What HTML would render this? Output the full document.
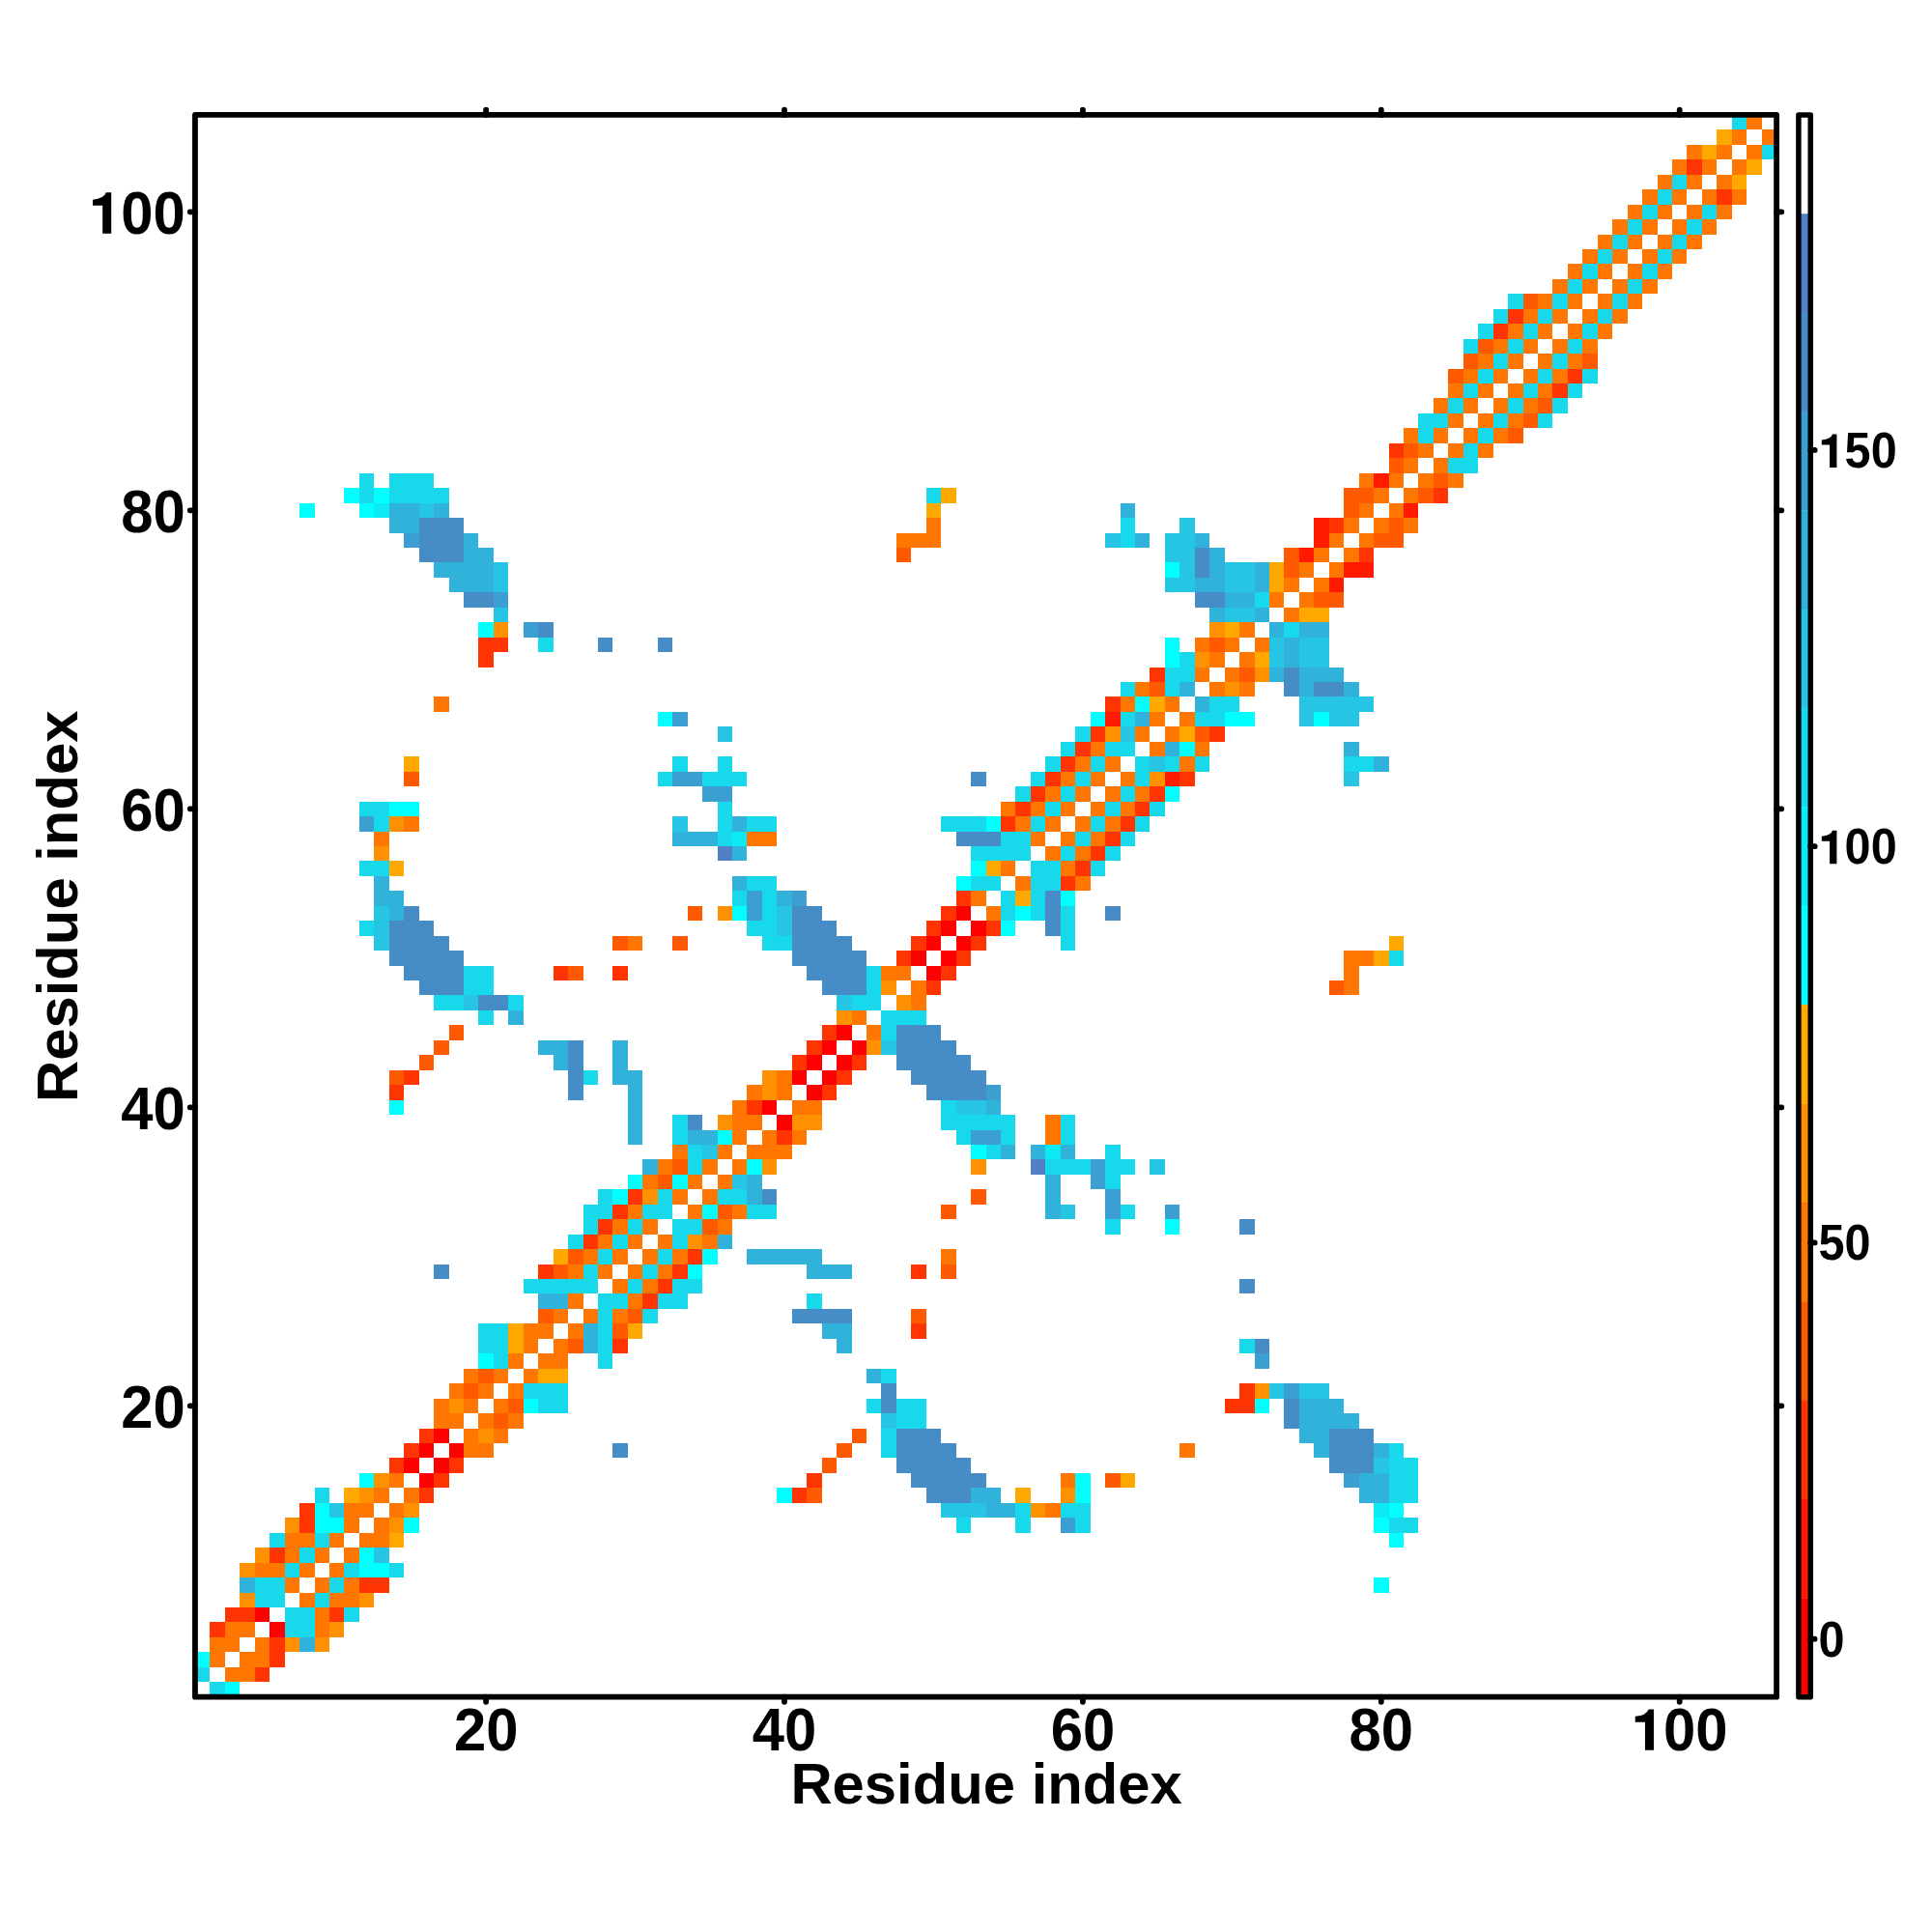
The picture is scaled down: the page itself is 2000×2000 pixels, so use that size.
<!DOCTYPE html><html><head><meta charset="utf-8"><title>Residue contact map</title>
<style>html,body{margin:0;padding:0;background:#fff}body{width:2000px;height:2000px;overflow:hidden}svg{display:block}text{font-family:"Liberation Sans",sans-serif;font-weight:bold;fill:#000}</style></head><body>
<svg width="2000" height="2000" viewBox="0 0 2000 2000">
<rect width="2000" height="2000" fill="#fff"/>
<g shape-rendering="crispEdges">
<rect x="217.39" y="1741.20" width="15.44" height="15.45" fill="#18d8ec"/>
<rect x="232.84" y="1741.20" width="15.44" height="15.45" fill="#00ffff"/>
<rect x="201.95" y="1725.75" width="15.44" height="15.45" fill="#18d8ec"/>
<rect x="232.84" y="1725.75" width="30.89" height="15.45" fill="#ff7600"/>
<rect x="263.73" y="1725.75" width="15.44" height="15.45" fill="#ff3400"/>
<rect x="201.95" y="1710.30" width="15.44" height="15.45" fill="#00ffff"/>
<rect x="217.39" y="1710.30" width="15.44" height="15.45" fill="#ff7600"/>
<rect x="248.28" y="1710.30" width="30.89" height="15.45" fill="#ff7600"/>
<rect x="279.17" y="1710.30" width="15.44" height="15.45" fill="#ff3400"/>
<rect x="217.39" y="1694.85" width="30.89" height="15.45" fill="#ff7600"/>
<rect x="263.73" y="1694.85" width="15.44" height="15.45" fill="#ff7600"/>
<rect x="279.17" y="1694.85" width="15.44" height="15.45" fill="#ff3400"/>
<rect x="294.62" y="1694.85" width="15.44" height="15.45" fill="#ff9000"/>
<rect x="310.06" y="1694.85" width="15.44" height="15.45" fill="#31b2da"/>
<rect x="325.51" y="1694.85" width="15.44" height="15.45" fill="#ff9000"/>
<rect x="217.39" y="1679.40" width="15.44" height="15.45" fill="#ff3400"/>
<rect x="232.84" y="1679.40" width="30.89" height="15.45" fill="#ff7600"/>
<rect x="279.17" y="1679.40" width="15.44" height="15.45" fill="#ff0000"/>
<rect x="294.62" y="1679.40" width="30.89" height="15.45" fill="#18d8ec"/>
<rect x="325.51" y="1679.40" width="15.44" height="15.45" fill="#ff7600"/>
<rect x="340.95" y="1679.40" width="15.44" height="15.45" fill="#ff9000"/>
<rect x="232.84" y="1663.95" width="30.89" height="15.45" fill="#ff3400"/>
<rect x="263.73" y="1663.95" width="15.44" height="15.45" fill="#ff0000"/>
<rect x="294.62" y="1663.95" width="30.89" height="15.45" fill="#18d8ec"/>
<rect x="325.51" y="1663.95" width="15.44" height="15.45" fill="#ff7600"/>
<rect x="340.95" y="1663.95" width="15.44" height="15.45" fill="#ff3400"/>
<rect x="356.40" y="1663.95" width="15.44" height="15.45" fill="#18d8ec"/>
<rect x="248.28" y="1648.50" width="15.44" height="15.45" fill="#ff9000"/>
<rect x="263.73" y="1648.50" width="30.89" height="15.45" fill="#18d8ec"/>
<rect x="310.06" y="1648.50" width="15.44" height="15.45" fill="#ff7600"/>
<rect x="325.51" y="1648.50" width="15.44" height="15.45" fill="#18d8ec"/>
<rect x="340.95" y="1648.50" width="30.89" height="15.45" fill="#ff7600"/>
<rect x="371.84" y="1648.50" width="15.44" height="15.45" fill="#ff9000"/>
<rect x="248.28" y="1633.05" width="15.44" height="15.45" fill="#31b2da"/>
<rect x="263.73" y="1633.05" width="30.89" height="15.45" fill="#18d8ec"/>
<rect x="294.62" y="1633.05" width="15.44" height="15.45" fill="#ff7600"/>
<rect x="325.51" y="1633.05" width="15.44" height="15.45" fill="#ff7600"/>
<rect x="340.95" y="1633.05" width="15.44" height="15.45" fill="#18d8ec"/>
<rect x="356.40" y="1633.05" width="15.44" height="15.45" fill="#ff7600"/>
<rect x="371.84" y="1633.05" width="30.89" height="15.45" fill="#ff3400"/>
<rect x="1422.09" y="1633.05" width="15.44" height="15.45" fill="#00ffff"/>
<rect x="248.28" y="1617.60" width="15.44" height="15.45" fill="#ff9000"/>
<rect x="263.73" y="1617.60" width="30.89" height="15.45" fill="#ff7600"/>
<rect x="294.62" y="1617.60" width="15.44" height="15.45" fill="#18d8ec"/>
<rect x="310.06" y="1617.60" width="15.44" height="15.45" fill="#ff7600"/>
<rect x="340.95" y="1617.60" width="15.44" height="15.45" fill="#ff7600"/>
<rect x="356.40" y="1617.60" width="15.44" height="15.45" fill="#18d8ec"/>
<rect x="371.84" y="1617.60" width="30.89" height="15.45" fill="#00ffff"/>
<rect x="402.73" y="1617.60" width="15.44" height="15.45" fill="#18d8ec"/>
<rect x="263.73" y="1602.15" width="15.44" height="15.45" fill="#ff9000"/>
<rect x="279.17" y="1602.15" width="15.44" height="15.45" fill="#ff3400"/>
<rect x="294.62" y="1602.15" width="15.44" height="15.45" fill="#ff7600"/>
<rect x="310.06" y="1602.15" width="15.44" height="15.45" fill="#18d8ec"/>
<rect x="325.51" y="1602.15" width="15.44" height="15.45" fill="#ff7600"/>
<rect x="356.40" y="1602.15" width="15.44" height="15.45" fill="#ff7600"/>
<rect x="371.84" y="1602.15" width="15.44" height="15.45" fill="#00ffff"/>
<rect x="387.29" y="1602.15" width="15.44" height="15.45" fill="#25c5e3"/>
<rect x="279.17" y="1586.69" width="15.44" height="15.45" fill="#18d8ec"/>
<rect x="294.62" y="1586.69" width="30.89" height="15.45" fill="#ff7600"/>
<rect x="325.51" y="1586.69" width="15.44" height="15.45" fill="#18d8ec"/>
<rect x="340.95" y="1586.69" width="15.44" height="15.45" fill="#ff7600"/>
<rect x="371.84" y="1586.69" width="30.89" height="15.45" fill="#ff7600"/>
<rect x="402.73" y="1586.69" width="15.44" height="15.45" fill="#ffa800"/>
<rect x="1437.53" y="1586.69" width="15.44" height="15.45" fill="#00ffff"/>
<rect x="294.62" y="1571.24" width="15.44" height="15.45" fill="#ff9000"/>
<rect x="310.06" y="1571.24" width="15.44" height="15.45" fill="#ff3400"/>
<rect x="325.51" y="1571.24" width="30.89" height="15.45" fill="#00ffff"/>
<rect x="356.40" y="1571.24" width="15.44" height="15.45" fill="#ff7600"/>
<rect x="387.29" y="1571.24" width="15.44" height="15.45" fill="#ff7600"/>
<rect x="402.73" y="1571.24" width="15.44" height="15.45" fill="#ff9000"/>
<rect x="418.18" y="1571.24" width="15.44" height="15.45" fill="#00ffff"/>
<rect x="989.64" y="1571.24" width="15.44" height="15.45" fill="#18d8ec"/>
<rect x="1051.41" y="1571.24" width="15.44" height="15.45" fill="#18d8ec"/>
<rect x="1097.75" y="1571.24" width="15.44" height="15.45" fill="#3c9fd1"/>
<rect x="1113.19" y="1571.24" width="15.44" height="15.45" fill="#18d8ec"/>
<rect x="1422.09" y="1571.24" width="15.44" height="15.45" fill="#00ffff"/>
<rect x="1437.53" y="1571.24" width="30.89" height="15.45" fill="#18d8ec"/>
<rect x="310.06" y="1555.79" width="15.44" height="15.45" fill="#ff3400"/>
<rect x="325.51" y="1555.79" width="15.44" height="15.45" fill="#00ffff"/>
<rect x="340.95" y="1555.79" width="15.44" height="15.45" fill="#25c5e3"/>
<rect x="356.40" y="1555.79" width="30.89" height="15.45" fill="#ff7600"/>
<rect x="402.73" y="1555.79" width="15.44" height="15.45" fill="#ff7600"/>
<rect x="418.18" y="1555.79" width="15.44" height="15.45" fill="#ff9000"/>
<rect x="974.19" y="1555.79" width="46.33" height="15.45" fill="#25c5e3"/>
<rect x="1020.52" y="1555.79" width="30.89" height="15.45" fill="#31b2da"/>
<rect x="1051.41" y="1555.79" width="15.44" height="15.45" fill="#18d8ec"/>
<rect x="1066.86" y="1555.79" width="15.44" height="15.45" fill="#ff9000"/>
<rect x="1082.30" y="1555.79" width="15.44" height="15.45" fill="#ff7600"/>
<rect x="1097.75" y="1555.79" width="30.89" height="15.45" fill="#18d8ec"/>
<rect x="1422.09" y="1555.79" width="15.44" height="15.45" fill="#0ceaf5"/>
<rect x="1437.53" y="1555.79" width="15.44" height="15.45" fill="#00ffff"/>
<rect x="325.51" y="1540.34" width="15.44" height="15.45" fill="#18d8ec"/>
<rect x="356.40" y="1540.34" width="15.44" height="15.45" fill="#ffa800"/>
<rect x="371.84" y="1540.34" width="15.44" height="15.45" fill="#ff9000"/>
<rect x="387.29" y="1540.34" width="15.44" height="15.45" fill="#ff7600"/>
<rect x="418.18" y="1540.34" width="15.44" height="15.45" fill="#ff7600"/>
<rect x="433.62" y="1540.34" width="15.44" height="15.45" fill="#ff3400"/>
<rect x="804.30" y="1540.34" width="15.44" height="15.45" fill="#00ffff"/>
<rect x="819.74" y="1540.34" width="15.44" height="15.45" fill="#ff3400"/>
<rect x="835.19" y="1540.34" width="15.44" height="15.45" fill="#ff5a00"/>
<rect x="958.75" y="1540.34" width="46.33" height="15.45" fill="#468dc8"/>
<rect x="1005.08" y="1540.34" width="30.89" height="15.45" fill="#31b2da"/>
<rect x="1051.41" y="1540.34" width="15.44" height="15.45" fill="#ffa800"/>
<rect x="1097.75" y="1540.34" width="15.44" height="15.45" fill="#ff9000"/>
<rect x="1113.19" y="1540.34" width="15.44" height="15.45" fill="#00ffff"/>
<rect x="1406.65" y="1540.34" width="30.89" height="15.45" fill="#31b2da"/>
<rect x="1437.53" y="1540.34" width="30.89" height="15.45" fill="#18d8ec"/>
<rect x="371.84" y="1524.89" width="15.44" height="15.45" fill="#00ffff"/>
<rect x="387.29" y="1524.89" width="15.44" height="15.45" fill="#ff9000"/>
<rect x="402.73" y="1524.89" width="15.44" height="15.45" fill="#ff7600"/>
<rect x="433.62" y="1524.89" width="15.44" height="15.45" fill="#ff0000"/>
<rect x="449.07" y="1524.89" width="15.44" height="15.45" fill="#ff3400"/>
<rect x="835.19" y="1524.89" width="15.44" height="15.45" fill="#ff3400"/>
<rect x="943.30" y="1524.89" width="77.22" height="15.45" fill="#468dc8"/>
<rect x="1097.75" y="1524.89" width="15.44" height="15.45" fill="#ff7600"/>
<rect x="1113.19" y="1524.89" width="15.44" height="15.45" fill="#00ffff"/>
<rect x="1144.08" y="1524.89" width="15.44" height="15.45" fill="#ff5a00"/>
<rect x="1159.53" y="1524.89" width="15.44" height="15.45" fill="#ffa800"/>
<rect x="1391.20" y="1524.89" width="15.44" height="15.45" fill="#3c9fd1"/>
<rect x="1406.65" y="1524.89" width="30.89" height="15.45" fill="#31b2da"/>
<rect x="1437.53" y="1524.89" width="30.89" height="15.45" fill="#18d8ec"/>
<rect x="402.73" y="1509.44" width="15.44" height="15.45" fill="#ff3400"/>
<rect x="418.18" y="1509.44" width="15.44" height="15.45" fill="#ff0000"/>
<rect x="449.07" y="1509.44" width="15.44" height="15.45" fill="#ff0000"/>
<rect x="464.51" y="1509.44" width="15.44" height="15.45" fill="#ff3400"/>
<rect x="850.63" y="1509.44" width="15.44" height="15.45" fill="#ff5a00"/>
<rect x="927.86" y="1509.44" width="77.22" height="15.45" fill="#468dc8"/>
<rect x="1375.76" y="1509.44" width="46.33" height="15.45" fill="#468dc8"/>
<rect x="1422.09" y="1509.44" width="15.44" height="15.45" fill="#25c5e3"/>
<rect x="1437.53" y="1509.44" width="30.89" height="15.45" fill="#18d8ec"/>
<rect x="418.18" y="1493.99" width="15.44" height="15.45" fill="#ff3400"/>
<rect x="433.62" y="1493.99" width="15.44" height="15.45" fill="#ff0000"/>
<rect x="464.51" y="1493.99" width="15.44" height="15.45" fill="#ff0000"/>
<rect x="479.96" y="1493.99" width="30.89" height="15.45" fill="#ff7600"/>
<rect x="634.40" y="1493.99" width="15.44" height="15.45" fill="#468dc8"/>
<rect x="866.08" y="1493.99" width="15.44" height="15.45" fill="#ff5a00"/>
<rect x="912.41" y="1493.99" width="15.44" height="15.45" fill="#18d8ec"/>
<rect x="927.86" y="1493.99" width="61.78" height="15.45" fill="#468dc8"/>
<rect x="1221.31" y="1493.99" width="15.44" height="15.45" fill="#ff7600"/>
<rect x="1360.31" y="1493.99" width="15.44" height="15.45" fill="#31b2da"/>
<rect x="1375.76" y="1493.99" width="46.33" height="15.45" fill="#468dc8"/>
<rect x="1422.09" y="1493.99" width="15.44" height="15.45" fill="#31b2da"/>
<rect x="1437.53" y="1493.99" width="15.44" height="15.45" fill="#18d8ec"/>
<rect x="433.62" y="1478.54" width="15.44" height="15.45" fill="#ff3400"/>
<rect x="449.07" y="1478.54" width="15.44" height="15.45" fill="#ff0000"/>
<rect x="479.96" y="1478.54" width="15.44" height="15.45" fill="#ff7600"/>
<rect x="495.40" y="1478.54" width="15.44" height="15.45" fill="#ff9000"/>
<rect x="510.85" y="1478.54" width="15.44" height="15.45" fill="#ff7600"/>
<rect x="881.52" y="1478.54" width="15.44" height="15.45" fill="#ff5a00"/>
<rect x="912.41" y="1478.54" width="15.44" height="15.45" fill="#18d8ec"/>
<rect x="927.86" y="1478.54" width="46.33" height="15.45" fill="#468dc8"/>
<rect x="1344.87" y="1478.54" width="30.89" height="15.45" fill="#31b2da"/>
<rect x="1375.76" y="1478.54" width="46.33" height="15.45" fill="#468dc8"/>
<rect x="449.07" y="1463.09" width="30.89" height="15.45" fill="#ff7600"/>
<rect x="495.40" y="1463.09" width="15.44" height="15.45" fill="#ff7600"/>
<rect x="510.85" y="1463.09" width="15.44" height="15.45" fill="#ff5a00"/>
<rect x="526.29" y="1463.09" width="15.44" height="15.45" fill="#ff7600"/>
<rect x="912.41" y="1463.09" width="15.44" height="15.45" fill="#25c5e3"/>
<rect x="927.86" y="1463.09" width="30.89" height="15.45" fill="#18d8ec"/>
<rect x="1329.42" y="1463.09" width="15.44" height="15.45" fill="#468dc8"/>
<rect x="1344.87" y="1463.09" width="61.78" height="15.45" fill="#31b2da"/>
<rect x="449.07" y="1447.64" width="15.44" height="15.45" fill="#ff7600"/>
<rect x="464.51" y="1447.64" width="15.44" height="15.45" fill="#ff9000"/>
<rect x="479.96" y="1447.64" width="15.44" height="15.45" fill="#ff7600"/>
<rect x="510.85" y="1447.64" width="15.44" height="15.45" fill="#ff7600"/>
<rect x="526.29" y="1447.64" width="15.44" height="15.45" fill="#ff5a00"/>
<rect x="541.74" y="1447.64" width="15.44" height="15.45" fill="#00ffff"/>
<rect x="557.18" y="1447.64" width="30.89" height="15.45" fill="#18d8ec"/>
<rect x="896.97" y="1447.64" width="15.44" height="15.45" fill="#18d8ec"/>
<rect x="912.41" y="1447.64" width="15.44" height="15.45" fill="#468dc8"/>
<rect x="927.86" y="1447.64" width="30.89" height="15.45" fill="#18d8ec"/>
<rect x="1267.64" y="1447.64" width="30.89" height="15.45" fill="#ff3400"/>
<rect x="1298.53" y="1447.64" width="15.44" height="15.45" fill="#00ffff"/>
<rect x="1329.42" y="1447.64" width="15.44" height="15.45" fill="#468dc8"/>
<rect x="1344.87" y="1447.64" width="46.33" height="15.45" fill="#31b2da"/>
<rect x="464.51" y="1432.19" width="15.44" height="15.45" fill="#ff7600"/>
<rect x="479.96" y="1432.19" width="15.44" height="15.45" fill="#ff5a00"/>
<rect x="495.40" y="1432.19" width="15.44" height="15.45" fill="#ff7600"/>
<rect x="526.29" y="1432.19" width="15.44" height="15.45" fill="#ff7600"/>
<rect x="541.74" y="1432.19" width="46.33" height="15.45" fill="#18d8ec"/>
<rect x="912.41" y="1432.19" width="15.44" height="15.45" fill="#468dc8"/>
<rect x="1283.09" y="1432.19" width="15.44" height="15.45" fill="#ff3400"/>
<rect x="1298.53" y="1432.19" width="15.44" height="15.45" fill="#ff9000"/>
<rect x="1313.98" y="1432.19" width="15.44" height="15.45" fill="#25c5e3"/>
<rect x="1329.42" y="1432.19" width="15.44" height="15.45" fill="#3c9fd1"/>
<rect x="1344.87" y="1432.19" width="30.89" height="15.45" fill="#25c5e3"/>
<rect x="479.96" y="1416.74" width="15.44" height="15.45" fill="#ff7600"/>
<rect x="495.40" y="1416.74" width="15.44" height="15.45" fill="#ff5a00"/>
<rect x="510.85" y="1416.74" width="15.44" height="15.45" fill="#ff7600"/>
<rect x="541.74" y="1416.74" width="15.44" height="15.45" fill="#ff7600"/>
<rect x="557.18" y="1416.74" width="30.89" height="15.45" fill="#ffa800"/>
<rect x="896.97" y="1416.74" width="15.44" height="15.45" fill="#31b2da"/>
<rect x="912.41" y="1416.74" width="15.44" height="15.45" fill="#18d8ec"/>
<rect x="495.40" y="1401.29" width="15.44" height="15.45" fill="#00ffff"/>
<rect x="510.85" y="1401.29" width="15.44" height="15.45" fill="#18d8ec"/>
<rect x="526.29" y="1401.29" width="15.44" height="15.45" fill="#ff7600"/>
<rect x="557.18" y="1401.29" width="30.89" height="15.45" fill="#ff7600"/>
<rect x="618.96" y="1401.29" width="15.44" height="15.45" fill="#18d8ec"/>
<rect x="1298.53" y="1401.29" width="15.44" height="15.45" fill="#3c9fd1"/>
<rect x="495.40" y="1385.84" width="30.89" height="15.45" fill="#18d8ec"/>
<rect x="526.29" y="1385.84" width="15.44" height="15.45" fill="#ffa800"/>
<rect x="541.74" y="1385.84" width="15.44" height="15.45" fill="#ff7600"/>
<rect x="572.63" y="1385.84" width="15.44" height="15.45" fill="#ff7600"/>
<rect x="588.07" y="1385.84" width="15.44" height="15.45" fill="#ff5a00"/>
<rect x="603.52" y="1385.84" width="15.44" height="15.45" fill="#31b2da"/>
<rect x="618.96" y="1385.84" width="15.44" height="15.45" fill="#18d8ec"/>
<rect x="634.40" y="1385.84" width="15.44" height="15.45" fill="#ff3400"/>
<rect x="866.08" y="1385.84" width="15.44" height="15.45" fill="#31b2da"/>
<rect x="1283.09" y="1385.84" width="15.44" height="15.45" fill="#18d8ec"/>
<rect x="1298.53" y="1385.84" width="15.44" height="15.45" fill="#468dc8"/>
<rect x="495.40" y="1370.39" width="30.89" height="15.45" fill="#18d8ec"/>
<rect x="526.29" y="1370.39" width="15.44" height="15.45" fill="#ffa800"/>
<rect x="541.74" y="1370.39" width="30.89" height="15.45" fill="#ff7600"/>
<rect x="588.07" y="1370.39" width="15.44" height="15.45" fill="#ff7600"/>
<rect x="603.52" y="1370.39" width="15.44" height="15.45" fill="#31b2da"/>
<rect x="618.96" y="1370.39" width="15.44" height="15.45" fill="#18d8ec"/>
<rect x="634.40" y="1370.39" width="15.44" height="15.45" fill="#ff5a00"/>
<rect x="649.85" y="1370.39" width="15.44" height="15.45" fill="#ffa800"/>
<rect x="850.63" y="1370.39" width="30.89" height="15.45" fill="#31b2da"/>
<rect x="943.30" y="1370.39" width="15.44" height="15.45" fill="#ff3400"/>
<rect x="557.18" y="1354.94" width="15.44" height="15.45" fill="#ff5a00"/>
<rect x="572.63" y="1354.94" width="15.44" height="15.45" fill="#ff7600"/>
<rect x="603.52" y="1354.94" width="15.44" height="15.45" fill="#ff7600"/>
<rect x="618.96" y="1354.94" width="15.44" height="15.45" fill="#18d8ec"/>
<rect x="634.40" y="1354.94" width="15.44" height="15.45" fill="#ff7600"/>
<rect x="649.85" y="1354.94" width="15.44" height="15.45" fill="#ff5a00"/>
<rect x="665.29" y="1354.94" width="15.44" height="15.45" fill="#18d8ec"/>
<rect x="819.74" y="1354.94" width="61.78" height="15.45" fill="#468dc8"/>
<rect x="943.30" y="1354.94" width="15.44" height="15.45" fill="#ff5a00"/>
<rect x="557.18" y="1339.49" width="30.89" height="15.45" fill="#31b2da"/>
<rect x="588.07" y="1339.49" width="15.44" height="15.45" fill="#ff7600"/>
<rect x="618.96" y="1339.49" width="30.89" height="15.45" fill="#18d8ec"/>
<rect x="649.85" y="1339.49" width="15.44" height="15.45" fill="#ff7600"/>
<rect x="665.29" y="1339.49" width="15.44" height="15.45" fill="#ff3400"/>
<rect x="680.74" y="1339.49" width="30.89" height="15.45" fill="#18d8ec"/>
<rect x="835.19" y="1339.49" width="15.44" height="15.45" fill="#18d8ec"/>
<rect x="541.74" y="1324.04" width="77.22" height="15.45" fill="#18d8ec"/>
<rect x="634.40" y="1324.04" width="15.44" height="15.45" fill="#ff7600"/>
<rect x="649.85" y="1324.04" width="15.44" height="15.45" fill="#18d8ec"/>
<rect x="665.29" y="1324.04" width="15.44" height="15.45" fill="#ff7600"/>
<rect x="680.74" y="1324.04" width="15.44" height="15.45" fill="#ff3400"/>
<rect x="696.18" y="1324.04" width="30.89" height="15.45" fill="#18d8ec"/>
<rect x="1283.09" y="1324.04" width="15.44" height="15.45" fill="#468dc8"/>
<rect x="449.07" y="1308.59" width="15.44" height="15.45" fill="#468dc8"/>
<rect x="557.18" y="1308.59" width="15.44" height="15.45" fill="#ff3400"/>
<rect x="572.63" y="1308.59" width="15.44" height="15.45" fill="#ff5a00"/>
<rect x="588.07" y="1308.59" width="15.44" height="15.45" fill="#ff7600"/>
<rect x="603.52" y="1308.59" width="15.44" height="15.45" fill="#18d8ec"/>
<rect x="618.96" y="1308.59" width="15.44" height="15.45" fill="#ff7600"/>
<rect x="649.85" y="1308.59" width="15.44" height="15.45" fill="#ff7600"/>
<rect x="665.29" y="1308.59" width="15.44" height="15.45" fill="#18d8ec"/>
<rect x="680.74" y="1308.59" width="15.44" height="15.45" fill="#ff7600"/>
<rect x="696.18" y="1308.59" width="15.44" height="15.45" fill="#ff3400"/>
<rect x="711.63" y="1308.59" width="15.44" height="15.45" fill="#00ffff"/>
<rect x="835.19" y="1308.59" width="46.33" height="15.45" fill="#31b2da"/>
<rect x="943.30" y="1308.59" width="15.44" height="15.45" fill="#ff3400"/>
<rect x="974.19" y="1308.59" width="15.44" height="15.45" fill="#ff5a00"/>
<rect x="572.63" y="1293.14" width="15.44" height="15.45" fill="#ffa800"/>
<rect x="588.07" y="1293.14" width="15.44" height="15.45" fill="#ff5a00"/>
<rect x="603.52" y="1293.14" width="15.44" height="15.45" fill="#ff7600"/>
<rect x="618.96" y="1293.14" width="15.44" height="15.45" fill="#18d8ec"/>
<rect x="634.40" y="1293.14" width="15.44" height="15.45" fill="#ff7600"/>
<rect x="665.29" y="1293.14" width="15.44" height="15.45" fill="#ff7600"/>
<rect x="680.74" y="1293.14" width="15.44" height="15.45" fill="#18d8ec"/>
<rect x="696.18" y="1293.14" width="15.44" height="15.45" fill="#ff7600"/>
<rect x="711.63" y="1293.14" width="15.44" height="15.45" fill="#ff3400"/>
<rect x="727.07" y="1293.14" width="15.44" height="15.45" fill="#00ffff"/>
<rect x="773.41" y="1293.14" width="77.22" height="15.45" fill="#31b2da"/>
<rect x="974.19" y="1293.14" width="15.44" height="15.45" fill="#ff7600"/>
<rect x="588.07" y="1277.69" width="15.44" height="15.45" fill="#18d8ec"/>
<rect x="603.52" y="1277.69" width="15.44" height="15.45" fill="#ff3400"/>
<rect x="618.96" y="1277.69" width="15.44" height="15.45" fill="#ff7600"/>
<rect x="634.40" y="1277.69" width="15.44" height="15.45" fill="#18d8ec"/>
<rect x="649.85" y="1277.69" width="15.44" height="15.45" fill="#ff7600"/>
<rect x="680.74" y="1277.69" width="15.44" height="15.45" fill="#ff7600"/>
<rect x="696.18" y="1277.69" width="15.44" height="15.45" fill="#18d8ec"/>
<rect x="711.63" y="1277.69" width="15.44" height="15.45" fill="#ff9000"/>
<rect x="727.07" y="1277.69" width="15.44" height="15.45" fill="#ff7600"/>
<rect x="742.52" y="1277.69" width="15.44" height="15.45" fill="#31b2da"/>
<rect x="603.52" y="1262.23" width="15.44" height="15.45" fill="#18d8ec"/>
<rect x="618.96" y="1262.23" width="15.44" height="15.45" fill="#ff3400"/>
<rect x="634.40" y="1262.23" width="15.44" height="15.45" fill="#ff7600"/>
<rect x="649.85" y="1262.23" width="15.44" height="15.45" fill="#18d8ec"/>
<rect x="665.29" y="1262.23" width="15.44" height="15.45" fill="#ff7600"/>
<rect x="696.18" y="1262.23" width="30.89" height="15.45" fill="#18d8ec"/>
<rect x="727.07" y="1262.23" width="15.44" height="15.45" fill="#ff5a00"/>
<rect x="742.52" y="1262.23" width="15.44" height="15.45" fill="#ff7600"/>
<rect x="1144.08" y="1262.23" width="15.44" height="15.45" fill="#18d8ec"/>
<rect x="1205.86" y="1262.23" width="15.44" height="15.45" fill="#00ffff"/>
<rect x="1283.09" y="1262.23" width="15.44" height="15.45" fill="#468dc8"/>
<rect x="603.52" y="1246.78" width="30.89" height="15.45" fill="#18d8ec"/>
<rect x="634.40" y="1246.78" width="15.44" height="15.45" fill="#ff3400"/>
<rect x="649.85" y="1246.78" width="15.44" height="15.45" fill="#ff7600"/>
<rect x="665.29" y="1246.78" width="30.89" height="15.45" fill="#18d8ec"/>
<rect x="711.63" y="1246.78" width="15.44" height="15.45" fill="#ff7600"/>
<rect x="727.07" y="1246.78" width="15.44" height="15.45" fill="#00ffff"/>
<rect x="742.52" y="1246.78" width="15.44" height="15.45" fill="#ff5a00"/>
<rect x="757.96" y="1246.78" width="15.44" height="15.45" fill="#ff7600"/>
<rect x="773.41" y="1246.78" width="30.89" height="15.45" fill="#18d8ec"/>
<rect x="974.19" y="1246.78" width="15.44" height="15.45" fill="#ff5a00"/>
<rect x="1082.30" y="1246.78" width="15.44" height="15.45" fill="#31b2da"/>
<rect x="1097.75" y="1246.78" width="15.44" height="15.45" fill="#25c5e3"/>
<rect x="1144.08" y="1246.78" width="15.44" height="15.45" fill="#3c9fd1"/>
<rect x="1159.53" y="1246.78" width="15.44" height="15.45" fill="#18d8ec"/>
<rect x="1205.86" y="1246.78" width="15.44" height="15.45" fill="#3c9fd1"/>
<rect x="618.96" y="1231.33" width="15.44" height="15.45" fill="#18d8ec"/>
<rect x="634.40" y="1231.33" width="15.44" height="15.45" fill="#00ffff"/>
<rect x="649.85" y="1231.33" width="15.44" height="15.45" fill="#ff3400"/>
<rect x="665.29" y="1231.33" width="15.44" height="15.45" fill="#ff9000"/>
<rect x="680.74" y="1231.33" width="15.44" height="15.45" fill="#18d8ec"/>
<rect x="696.18" y="1231.33" width="15.44" height="15.45" fill="#ff7600"/>
<rect x="727.07" y="1231.33" width="15.44" height="15.45" fill="#ff7600"/>
<rect x="742.52" y="1231.33" width="30.89" height="15.45" fill="#18d8ec"/>
<rect x="773.41" y="1231.33" width="15.44" height="15.45" fill="#31b2da"/>
<rect x="788.85" y="1231.33" width="15.44" height="15.45" fill="#468dc8"/>
<rect x="1005.08" y="1231.33" width="15.44" height="15.45" fill="#ff5a00"/>
<rect x="1082.30" y="1231.33" width="15.44" height="15.45" fill="#31b2da"/>
<rect x="1144.08" y="1231.33" width="15.44" height="15.45" fill="#3c9fd1"/>
<rect x="649.85" y="1215.88" width="15.44" height="15.45" fill="#00ffff"/>
<rect x="665.29" y="1215.88" width="15.44" height="15.45" fill="#ff7600"/>
<rect x="680.74" y="1215.88" width="15.44" height="15.45" fill="#ff5a00"/>
<rect x="696.18" y="1215.88" width="15.44" height="15.45" fill="#00ffff"/>
<rect x="711.63" y="1215.88" width="15.44" height="15.45" fill="#ff7600"/>
<rect x="742.52" y="1215.88" width="15.44" height="15.45" fill="#ff7600"/>
<rect x="757.96" y="1215.88" width="15.44" height="15.45" fill="#25c5e3"/>
<rect x="773.41" y="1215.88" width="15.44" height="15.45" fill="#31b2da"/>
<rect x="1082.30" y="1215.88" width="15.44" height="15.45" fill="#31b2da"/>
<rect x="1128.64" y="1215.88" width="15.44" height="15.45" fill="#3c9fd1"/>
<rect x="1144.08" y="1215.88" width="15.44" height="15.45" fill="#18d8ec"/>
<rect x="665.29" y="1200.43" width="15.44" height="15.45" fill="#31b2da"/>
<rect x="680.74" y="1200.43" width="15.44" height="15.45" fill="#ff7600"/>
<rect x="696.18" y="1200.43" width="15.44" height="15.45" fill="#ff5a00"/>
<rect x="711.63" y="1200.43" width="15.44" height="15.45" fill="#18d8ec"/>
<rect x="727.07" y="1200.43" width="15.44" height="15.45" fill="#ff7600"/>
<rect x="757.96" y="1200.43" width="15.44" height="15.45" fill="#ff7600"/>
<rect x="773.41" y="1200.43" width="15.44" height="15.45" fill="#00ffff"/>
<rect x="788.85" y="1200.43" width="15.44" height="15.45" fill="#ff9000"/>
<rect x="1005.08" y="1200.43" width="15.44" height="15.45" fill="#ff9000"/>
<rect x="1066.86" y="1200.43" width="15.44" height="15.45" fill="#5280c6"/>
<rect x="1082.30" y="1200.43" width="46.33" height="15.45" fill="#18d8ec"/>
<rect x="1128.64" y="1200.43" width="15.44" height="15.45" fill="#3c9fd1"/>
<rect x="1144.08" y="1200.43" width="30.89" height="15.45" fill="#18d8ec"/>
<rect x="1190.42" y="1200.43" width="15.44" height="15.45" fill="#25c5e3"/>
<rect x="696.18" y="1184.98" width="15.44" height="15.45" fill="#ff7600"/>
<rect x="711.63" y="1184.98" width="15.44" height="15.45" fill="#18d8ec"/>
<rect x="727.07" y="1184.98" width="15.44" height="15.45" fill="#25c5e3"/>
<rect x="742.52" y="1184.98" width="15.44" height="15.45" fill="#ff7600"/>
<rect x="773.41" y="1184.98" width="46.33" height="15.45" fill="#ff7600"/>
<rect x="1005.08" y="1184.98" width="15.44" height="15.45" fill="#00ffff"/>
<rect x="1020.52" y="1184.98" width="15.44" height="15.45" fill="#18d8ec"/>
<rect x="1035.97" y="1184.98" width="15.44" height="15.45" fill="#31b2da"/>
<rect x="1066.86" y="1184.98" width="15.44" height="15.45" fill="#31b2da"/>
<rect x="1082.30" y="1184.98" width="15.44" height="15.45" fill="#0ceaf5"/>
<rect x="1097.75" y="1184.98" width="15.44" height="15.45" fill="#31b2da"/>
<rect x="1144.08" y="1184.98" width="15.44" height="15.45" fill="#18d8ec"/>
<rect x="649.85" y="1169.53" width="15.44" height="15.45" fill="#31b2da"/>
<rect x="696.18" y="1169.53" width="15.44" height="15.45" fill="#18d8ec"/>
<rect x="711.63" y="1169.53" width="30.89" height="15.45" fill="#31b2da"/>
<rect x="742.52" y="1169.53" width="15.44" height="15.45" fill="#00ffff"/>
<rect x="757.96" y="1169.53" width="15.44" height="15.45" fill="#ff7600"/>
<rect x="788.85" y="1169.53" width="15.44" height="15.45" fill="#ff7600"/>
<rect x="804.30" y="1169.53" width="15.44" height="15.45" fill="#ff3400"/>
<rect x="819.74" y="1169.53" width="15.44" height="15.45" fill="#ff7600"/>
<rect x="989.64" y="1169.53" width="15.44" height="15.45" fill="#18d8ec"/>
<rect x="1005.08" y="1169.53" width="30.89" height="15.45" fill="#3c9fd1"/>
<rect x="1035.97" y="1169.53" width="15.44" height="15.45" fill="#18d8ec"/>
<rect x="1082.30" y="1169.53" width="15.44" height="15.45" fill="#ff7600"/>
<rect x="1097.75" y="1169.53" width="15.44" height="15.45" fill="#18d8ec"/>
<rect x="649.85" y="1154.08" width="15.44" height="15.45" fill="#31b2da"/>
<rect x="696.18" y="1154.08" width="15.44" height="15.45" fill="#18d8ec"/>
<rect x="711.63" y="1154.08" width="15.44" height="15.45" fill="#468dc8"/>
<rect x="742.52" y="1154.08" width="15.44" height="15.45" fill="#ff9000"/>
<rect x="757.96" y="1154.08" width="30.89" height="15.45" fill="#ff7600"/>
<rect x="804.30" y="1154.08" width="15.44" height="15.45" fill="#ff0000"/>
<rect x="819.74" y="1154.08" width="30.89" height="15.45" fill="#ff9000"/>
<rect x="974.19" y="1154.08" width="77.22" height="15.45" fill="#18d8ec"/>
<rect x="1082.30" y="1154.08" width="15.44" height="15.45" fill="#ff7600"/>
<rect x="1097.75" y="1154.08" width="15.44" height="15.45" fill="#18d8ec"/>
<rect x="402.73" y="1138.63" width="15.44" height="15.45" fill="#00ffff"/>
<rect x="649.85" y="1138.63" width="15.44" height="15.45" fill="#31b2da"/>
<rect x="757.96" y="1138.63" width="15.44" height="15.45" fill="#ff7600"/>
<rect x="773.41" y="1138.63" width="15.44" height="15.45" fill="#ff3400"/>
<rect x="788.85" y="1138.63" width="15.44" height="15.45" fill="#ff0000"/>
<rect x="819.74" y="1138.63" width="30.89" height="15.45" fill="#ff7600"/>
<rect x="974.19" y="1138.63" width="15.44" height="15.45" fill="#18d8ec"/>
<rect x="989.64" y="1138.63" width="30.89" height="15.45" fill="#25c5e3"/>
<rect x="1020.52" y="1138.63" width="15.44" height="15.45" fill="#31b2da"/>
<rect x="402.73" y="1123.18" width="15.44" height="15.45" fill="#ff3400"/>
<rect x="588.07" y="1123.18" width="15.44" height="15.45" fill="#468dc8"/>
<rect x="649.85" y="1123.18" width="15.44" height="15.45" fill="#31b2da"/>
<rect x="773.41" y="1123.18" width="15.44" height="15.45" fill="#ff7600"/>
<rect x="788.85" y="1123.18" width="15.44" height="15.45" fill="#ff9000"/>
<rect x="804.30" y="1123.18" width="15.44" height="15.45" fill="#ff7600"/>
<rect x="835.19" y="1123.18" width="15.44" height="15.45" fill="#ff0000"/>
<rect x="850.63" y="1123.18" width="15.44" height="15.45" fill="#ff3400"/>
<rect x="958.75" y="1123.18" width="61.78" height="15.45" fill="#468dc8"/>
<rect x="1020.52" y="1123.18" width="15.44" height="15.45" fill="#3c9fd1"/>
<rect x="402.73" y="1107.73" width="15.44" height="15.45" fill="#ff5a00"/>
<rect x="418.18" y="1107.73" width="15.44" height="15.45" fill="#ff3400"/>
<rect x="588.07" y="1107.73" width="15.44" height="15.45" fill="#468dc8"/>
<rect x="603.52" y="1107.73" width="15.44" height="15.45" fill="#18d8ec"/>
<rect x="634.40" y="1107.73" width="30.89" height="15.45" fill="#31b2da"/>
<rect x="788.85" y="1107.73" width="15.44" height="15.45" fill="#ff9000"/>
<rect x="804.30" y="1107.73" width="15.44" height="15.45" fill="#ff7600"/>
<rect x="819.74" y="1107.73" width="15.44" height="15.45" fill="#ff0000"/>
<rect x="850.63" y="1107.73" width="15.44" height="15.45" fill="#ff0000"/>
<rect x="866.08" y="1107.73" width="15.44" height="15.45" fill="#ff3400"/>
<rect x="943.30" y="1107.73" width="77.22" height="15.45" fill="#468dc8"/>
<rect x="433.62" y="1092.28" width="15.44" height="15.45" fill="#ff5a00"/>
<rect x="572.63" y="1092.28" width="15.44" height="15.45" fill="#31b2da"/>
<rect x="588.07" y="1092.28" width="15.44" height="15.45" fill="#468dc8"/>
<rect x="634.40" y="1092.28" width="15.44" height="15.45" fill="#31b2da"/>
<rect x="819.74" y="1092.28" width="15.44" height="15.45" fill="#ff3400"/>
<rect x="835.19" y="1092.28" width="15.44" height="15.45" fill="#ff0000"/>
<rect x="866.08" y="1092.28" width="15.44" height="15.45" fill="#ff0000"/>
<rect x="881.52" y="1092.28" width="15.44" height="15.45" fill="#ff3400"/>
<rect x="927.86" y="1092.28" width="77.22" height="15.45" fill="#468dc8"/>
<rect x="449.07" y="1076.83" width="15.44" height="15.45" fill="#ff5a00"/>
<rect x="557.18" y="1076.83" width="30.89" height="15.45" fill="#31b2da"/>
<rect x="588.07" y="1076.83" width="15.44" height="15.45" fill="#468dc8"/>
<rect x="634.40" y="1076.83" width="15.44" height="15.45" fill="#31b2da"/>
<rect x="835.19" y="1076.83" width="15.44" height="15.45" fill="#ff3400"/>
<rect x="850.63" y="1076.83" width="15.44" height="15.45" fill="#ff0000"/>
<rect x="881.52" y="1076.83" width="15.44" height="15.45" fill="#ff0000"/>
<rect x="896.97" y="1076.83" width="15.44" height="15.45" fill="#ff9000"/>
<rect x="912.41" y="1076.83" width="15.44" height="15.45" fill="#25c5e3"/>
<rect x="927.86" y="1076.83" width="61.78" height="15.45" fill="#468dc8"/>
<rect x="464.51" y="1061.38" width="15.44" height="15.45" fill="#ff5a00"/>
<rect x="850.63" y="1061.38" width="15.44" height="15.45" fill="#ff3400"/>
<rect x="866.08" y="1061.38" width="15.44" height="15.45" fill="#ff0000"/>
<rect x="896.97" y="1061.38" width="15.44" height="15.45" fill="#ff7600"/>
<rect x="912.41" y="1061.38" width="15.44" height="15.45" fill="#18d8ec"/>
<rect x="927.86" y="1061.38" width="46.33" height="15.45" fill="#468dc8"/>
<rect x="495.40" y="1045.93" width="15.44" height="15.45" fill="#18d8ec"/>
<rect x="526.29" y="1045.93" width="15.44" height="15.45" fill="#31b2da"/>
<rect x="866.08" y="1045.93" width="15.44" height="15.45" fill="#ff9000"/>
<rect x="881.52" y="1045.93" width="15.44" height="15.45" fill="#ff7600"/>
<rect x="912.41" y="1045.93" width="46.33" height="15.45" fill="#18d8ec"/>
<rect x="449.07" y="1030.48" width="30.89" height="15.45" fill="#18d8ec"/>
<rect x="479.96" y="1030.48" width="15.44" height="15.45" fill="#25c5e3"/>
<rect x="495.40" y="1030.48" width="30.89" height="15.45" fill="#468dc8"/>
<rect x="526.29" y="1030.48" width="15.44" height="15.45" fill="#18d8ec"/>
<rect x="866.08" y="1030.48" width="15.44" height="15.45" fill="#25c5e3"/>
<rect x="881.52" y="1030.48" width="30.89" height="15.45" fill="#18d8ec"/>
<rect x="927.86" y="1030.48" width="15.44" height="15.45" fill="#ff9000"/>
<rect x="943.30" y="1030.48" width="15.44" height="15.45" fill="#ff7600"/>
<rect x="433.62" y="1015.03" width="46.33" height="15.45" fill="#468dc8"/>
<rect x="479.96" y="1015.03" width="30.89" height="15.45" fill="#18d8ec"/>
<rect x="850.63" y="1015.03" width="46.33" height="15.45" fill="#468dc8"/>
<rect x="896.97" y="1015.03" width="15.44" height="15.45" fill="#18d8ec"/>
<rect x="912.41" y="1015.03" width="15.44" height="15.45" fill="#ff9000"/>
<rect x="943.30" y="1015.03" width="15.44" height="15.45" fill="#ff7600"/>
<rect x="958.75" y="1015.03" width="15.44" height="15.45" fill="#ff3400"/>
<rect x="1375.76" y="1015.03" width="15.44" height="15.45" fill="#ff5a00"/>
<rect x="1391.20" y="1015.03" width="15.44" height="15.45" fill="#ff7600"/>
<rect x="418.18" y="999.58" width="61.78" height="15.45" fill="#468dc8"/>
<rect x="479.96" y="999.58" width="30.89" height="15.45" fill="#18d8ec"/>
<rect x="572.63" y="999.58" width="15.44" height="15.45" fill="#ff3400"/>
<rect x="588.07" y="999.58" width="15.44" height="15.45" fill="#ff5a00"/>
<rect x="634.40" y="999.58" width="15.44" height="15.45" fill="#ff3400"/>
<rect x="835.19" y="999.58" width="61.78" height="15.45" fill="#468dc8"/>
<rect x="896.97" y="999.58" width="15.44" height="15.45" fill="#18d8ec"/>
<rect x="912.41" y="999.58" width="30.89" height="15.45" fill="#ff7600"/>
<rect x="958.75" y="999.58" width="15.44" height="15.45" fill="#ff0000"/>
<rect x="974.19" y="999.58" width="15.44" height="15.45" fill="#ff3400"/>
<rect x="1391.20" y="999.58" width="15.44" height="15.45" fill="#ff7600"/>
<rect x="402.73" y="984.13" width="77.22" height="15.45" fill="#468dc8"/>
<rect x="819.74" y="984.13" width="77.22" height="15.45" fill="#468dc8"/>
<rect x="927.86" y="984.13" width="15.44" height="15.45" fill="#ff3400"/>
<rect x="943.30" y="984.13" width="15.44" height="15.45" fill="#ff0000"/>
<rect x="974.19" y="984.13" width="15.44" height="15.45" fill="#ff0000"/>
<rect x="989.64" y="984.13" width="15.44" height="15.45" fill="#ff3400"/>
<rect x="1391.20" y="984.13" width="30.89" height="15.45" fill="#ff7600"/>
<rect x="1422.09" y="984.13" width="15.44" height="15.45" fill="#ffa800"/>
<rect x="1437.53" y="984.13" width="15.44" height="15.45" fill="#18d8ec"/>
<rect x="387.29" y="968.68" width="15.44" height="15.45" fill="#25c5e3"/>
<rect x="402.73" y="968.68" width="61.78" height="15.45" fill="#468dc8"/>
<rect x="634.40" y="968.68" width="15.44" height="15.45" fill="#ff5a00"/>
<rect x="649.85" y="968.68" width="15.44" height="15.45" fill="#ff7600"/>
<rect x="696.18" y="968.68" width="15.44" height="15.45" fill="#ff5a00"/>
<rect x="788.85" y="968.68" width="30.89" height="15.45" fill="#18d8ec"/>
<rect x="819.74" y="968.68" width="61.78" height="15.45" fill="#468dc8"/>
<rect x="943.30" y="968.68" width="15.44" height="15.45" fill="#ff3400"/>
<rect x="958.75" y="968.68" width="15.44" height="15.45" fill="#ff0000"/>
<rect x="989.64" y="968.68" width="15.44" height="15.45" fill="#ff0000"/>
<rect x="1005.08" y="968.68" width="15.44" height="15.45" fill="#ff3400"/>
<rect x="1097.75" y="968.68" width="15.44" height="15.45" fill="#18d8ec"/>
<rect x="1437.53" y="968.68" width="15.44" height="15.45" fill="#ffa800"/>
<rect x="371.84" y="953.23" width="15.44" height="15.45" fill="#18d8ec"/>
<rect x="387.29" y="953.23" width="15.44" height="15.45" fill="#25c5e3"/>
<rect x="402.73" y="953.23" width="46.33" height="15.45" fill="#468dc8"/>
<rect x="773.41" y="953.23" width="30.89" height="15.45" fill="#18d8ec"/>
<rect x="804.30" y="953.23" width="15.44" height="15.45" fill="#25c5e3"/>
<rect x="819.74" y="953.23" width="46.33" height="15.45" fill="#468dc8"/>
<rect x="958.75" y="953.23" width="15.44" height="15.45" fill="#ff3400"/>
<rect x="974.19" y="953.23" width="15.44" height="15.45" fill="#ff0000"/>
<rect x="1005.08" y="953.23" width="15.44" height="15.45" fill="#ff0000"/>
<rect x="1020.52" y="953.23" width="15.44" height="15.45" fill="#ff3400"/>
<rect x="1035.97" y="953.23" width="15.44" height="15.45" fill="#00ffff"/>
<rect x="1082.30" y="953.23" width="15.44" height="15.45" fill="#468dc8"/>
<rect x="1097.75" y="953.23" width="15.44" height="15.45" fill="#18d8ec"/>
<rect x="387.29" y="937.78" width="15.44" height="15.45" fill="#25c5e3"/>
<rect x="402.73" y="937.78" width="15.44" height="15.45" fill="#31b2da"/>
<rect x="418.18" y="937.78" width="15.44" height="15.45" fill="#468dc8"/>
<rect x="711.63" y="937.78" width="15.44" height="15.45" fill="#ff5a00"/>
<rect x="742.52" y="937.78" width="15.44" height="15.45" fill="#ff9000"/>
<rect x="757.96" y="937.78" width="15.44" height="15.45" fill="#00ffff"/>
<rect x="773.41" y="937.78" width="15.44" height="15.45" fill="#3c9fd1"/>
<rect x="788.85" y="937.78" width="15.44" height="15.45" fill="#18d8ec"/>
<rect x="804.30" y="937.78" width="15.44" height="15.45" fill="#25c5e3"/>
<rect x="819.74" y="937.78" width="30.89" height="15.45" fill="#468dc8"/>
<rect x="974.19" y="937.78" width="15.44" height="15.45" fill="#ff3400"/>
<rect x="989.64" y="937.78" width="15.44" height="15.45" fill="#ff0000"/>
<rect x="1020.52" y="937.78" width="15.44" height="15.45" fill="#ff7600"/>
<rect x="1035.97" y="937.78" width="15.44" height="15.45" fill="#18d8ec"/>
<rect x="1051.41" y="937.78" width="15.44" height="15.45" fill="#00ffff"/>
<rect x="1066.86" y="937.78" width="15.44" height="15.45" fill="#18d8ec"/>
<rect x="1082.30" y="937.78" width="15.44" height="15.45" fill="#468dc8"/>
<rect x="1097.75" y="937.78" width="15.44" height="15.45" fill="#18d8ec"/>
<rect x="1144.08" y="937.78" width="15.44" height="15.45" fill="#468dc8"/>
<rect x="387.29" y="922.32" width="30.89" height="15.45" fill="#31b2da"/>
<rect x="757.96" y="922.32" width="15.44" height="15.45" fill="#18d8ec"/>
<rect x="773.41" y="922.32" width="15.44" height="15.45" fill="#3c9fd1"/>
<rect x="788.85" y="922.32" width="15.44" height="15.45" fill="#18d8ec"/>
<rect x="804.30" y="922.32" width="15.44" height="15.45" fill="#31b2da"/>
<rect x="819.74" y="922.32" width="15.44" height="15.45" fill="#3c9fd1"/>
<rect x="989.64" y="922.32" width="15.44" height="15.45" fill="#ff3400"/>
<rect x="1005.08" y="922.32" width="15.44" height="15.45" fill="#ff7600"/>
<rect x="1035.97" y="922.32" width="15.44" height="15.45" fill="#18d8ec"/>
<rect x="1051.41" y="922.32" width="15.44" height="15.45" fill="#ffa800"/>
<rect x="1066.86" y="922.32" width="15.44" height="15.45" fill="#18d8ec"/>
<rect x="1082.30" y="922.32" width="15.44" height="15.45" fill="#468dc8"/>
<rect x="1097.75" y="922.32" width="15.44" height="15.45" fill="#00ffff"/>
<rect x="387.29" y="906.87" width="15.44" height="15.45" fill="#31b2da"/>
<rect x="757.96" y="906.87" width="15.44" height="15.45" fill="#31b2da"/>
<rect x="773.41" y="906.87" width="30.89" height="15.45" fill="#18d8ec"/>
<rect x="989.64" y="906.87" width="15.44" height="15.45" fill="#00ffff"/>
<rect x="1005.08" y="906.87" width="30.89" height="15.45" fill="#18d8ec"/>
<rect x="1051.41" y="906.87" width="15.44" height="15.45" fill="#ff7600"/>
<rect x="1066.86" y="906.87" width="30.89" height="15.45" fill="#18d8ec"/>
<rect x="1097.75" y="906.87" width="15.44" height="15.45" fill="#ff3400"/>
<rect x="1113.19" y="906.87" width="15.44" height="15.45" fill="#ff7600"/>
<rect x="371.84" y="891.42" width="30.89" height="15.45" fill="#18d8ec"/>
<rect x="402.73" y="891.42" width="15.44" height="15.45" fill="#ffa800"/>
<rect x="1005.08" y="891.42" width="15.44" height="15.45" fill="#00ffff"/>
<rect x="1020.52" y="891.42" width="15.44" height="15.45" fill="#ffa800"/>
<rect x="1035.97" y="891.42" width="15.44" height="15.45" fill="#ff7600"/>
<rect x="1066.86" y="891.42" width="30.89" height="15.45" fill="#18d8ec"/>
<rect x="1097.75" y="891.42" width="15.44" height="15.45" fill="#ff7600"/>
<rect x="1113.19" y="891.42" width="15.44" height="15.45" fill="#ff3400"/>
<rect x="1128.64" y="891.42" width="15.44" height="15.45" fill="#18d8ec"/>
<rect x="387.29" y="875.97" width="15.44" height="15.45" fill="#ff9000"/>
<rect x="742.52" y="875.97" width="15.44" height="15.45" fill="#5280c6"/>
<rect x="757.96" y="875.97" width="15.44" height="15.45" fill="#31b2da"/>
<rect x="1005.08" y="875.97" width="61.78" height="15.45" fill="#18d8ec"/>
<rect x="1082.30" y="875.97" width="15.44" height="15.45" fill="#ff7600"/>
<rect x="1097.75" y="875.97" width="15.44" height="15.45" fill="#18d8ec"/>
<rect x="1113.19" y="875.97" width="15.44" height="15.45" fill="#ff7600"/>
<rect x="1128.64" y="875.97" width="15.44" height="15.45" fill="#ff3400"/>
<rect x="1144.08" y="875.97" width="15.44" height="15.45" fill="#18d8ec"/>
<rect x="387.29" y="860.52" width="15.44" height="15.45" fill="#ff7600"/>
<rect x="696.18" y="860.52" width="46.33" height="15.45" fill="#31b2da"/>
<rect x="742.52" y="860.52" width="15.44" height="15.45" fill="#18d8ec"/>
<rect x="757.96" y="860.52" width="15.44" height="15.45" fill="#0ceaf5"/>
<rect x="773.41" y="860.52" width="30.89" height="15.45" fill="#ff7600"/>
<rect x="989.64" y="860.52" width="46.33" height="15.45" fill="#468dc8"/>
<rect x="1035.97" y="860.52" width="30.89" height="15.45" fill="#18d8ec"/>
<rect x="1066.86" y="860.52" width="15.44" height="15.45" fill="#ff7600"/>
<rect x="1097.75" y="860.52" width="15.44" height="15.45" fill="#ff7600"/>
<rect x="1113.19" y="860.52" width="15.44" height="15.45" fill="#18d8ec"/>
<rect x="1128.64" y="860.52" width="15.44" height="15.45" fill="#ff7600"/>
<rect x="1144.08" y="860.52" width="15.44" height="15.45" fill="#ff3400"/>
<rect x="1159.53" y="860.52" width="15.44" height="15.45" fill="#18d8ec"/>
<rect x="371.84" y="845.07" width="15.44" height="15.45" fill="#3c9fd1"/>
<rect x="387.29" y="845.07" width="15.44" height="15.45" fill="#18d8ec"/>
<rect x="402.73" y="845.07" width="15.44" height="15.45" fill="#ff9000"/>
<rect x="418.18" y="845.07" width="15.44" height="15.45" fill="#ff7600"/>
<rect x="696.18" y="845.07" width="15.44" height="15.45" fill="#25c5e3"/>
<rect x="742.52" y="845.07" width="15.44" height="15.45" fill="#18d8ec"/>
<rect x="757.96" y="845.07" width="15.44" height="15.45" fill="#31b2da"/>
<rect x="773.41" y="845.07" width="30.89" height="15.45" fill="#18d8ec"/>
<rect x="974.19" y="845.07" width="46.33" height="15.45" fill="#18d8ec"/>
<rect x="1020.52" y="845.07" width="15.44" height="15.45" fill="#00ffff"/>
<rect x="1035.97" y="845.07" width="15.44" height="15.45" fill="#ff3400"/>
<rect x="1051.41" y="845.07" width="15.44" height="15.45" fill="#ff7600"/>
<rect x="1066.86" y="845.07" width="15.44" height="15.45" fill="#18d8ec"/>
<rect x="1082.30" y="845.07" width="15.44" height="15.45" fill="#ff7600"/>
<rect x="1113.19" y="845.07" width="15.44" height="15.45" fill="#ff7600"/>
<rect x="1128.64" y="845.07" width="15.44" height="15.45" fill="#18d8ec"/>
<rect x="1144.08" y="845.07" width="15.44" height="15.45" fill="#ff7600"/>
<rect x="1159.53" y="845.07" width="15.44" height="15.45" fill="#ff3400"/>
<rect x="1174.97" y="845.07" width="15.44" height="15.45" fill="#18d8ec"/>
<rect x="371.84" y="829.62" width="30.89" height="15.45" fill="#18d8ec"/>
<rect x="402.73" y="829.62" width="30.89" height="15.45" fill="#00ffff"/>
<rect x="742.52" y="829.62" width="15.44" height="15.45" fill="#18d8ec"/>
<rect x="1035.97" y="829.62" width="15.44" height="15.45" fill="#ff7600"/>
<rect x="1051.41" y="829.62" width="15.44" height="15.45" fill="#ff3400"/>
<rect x="1066.86" y="829.62" width="15.44" height="15.45" fill="#ff7600"/>
<rect x="1082.30" y="829.62" width="15.44" height="15.45" fill="#18d8ec"/>
<rect x="1097.75" y="829.62" width="15.44" height="15.45" fill="#ff7600"/>
<rect x="1128.64" y="829.62" width="15.44" height="15.45" fill="#ff7600"/>
<rect x="1144.08" y="829.62" width="15.44" height="15.45" fill="#18d8ec"/>
<rect x="1159.53" y="829.62" width="15.44" height="15.45" fill="#ff7600"/>
<rect x="1174.97" y="829.62" width="15.44" height="15.45" fill="#ff3400"/>
<rect x="1190.42" y="829.62" width="15.44" height="15.45" fill="#18d8ec"/>
<rect x="727.07" y="814.17" width="30.89" height="15.45" fill="#3c9fd1"/>
<rect x="1051.41" y="814.17" width="15.44" height="15.45" fill="#18d8ec"/>
<rect x="1066.86" y="814.17" width="15.44" height="15.45" fill="#ff3400"/>
<rect x="1082.30" y="814.17" width="15.44" height="15.45" fill="#ff7600"/>
<rect x="1097.75" y="814.17" width="15.44" height="15.45" fill="#18d8ec"/>
<rect x="1113.19" y="814.17" width="15.44" height="15.45" fill="#ff7600"/>
<rect x="1144.08" y="814.17" width="15.44" height="15.45" fill="#ff7600"/>
<rect x="1159.53" y="814.17" width="15.44" height="15.45" fill="#18d8ec"/>
<rect x="1174.97" y="814.17" width="15.44" height="15.45" fill="#ff7600"/>
<rect x="1190.42" y="814.17" width="15.44" height="15.45" fill="#ff3400"/>
<rect x="1205.86" y="814.17" width="15.44" height="15.45" fill="#00ffff"/>
<rect x="418.18" y="798.72" width="15.44" height="15.45" fill="#ff5a00"/>
<rect x="680.74" y="798.72" width="15.44" height="15.45" fill="#18d8ec"/>
<rect x="696.18" y="798.72" width="30.89" height="15.45" fill="#3c9fd1"/>
<rect x="727.07" y="798.72" width="46.33" height="15.45" fill="#18d8ec"/>
<rect x="1005.08" y="798.72" width="15.44" height="15.45" fill="#468dc8"/>
<rect x="1066.86" y="798.72" width="15.44" height="15.45" fill="#18d8ec"/>
<rect x="1082.30" y="798.72" width="15.44" height="15.45" fill="#ff3400"/>
<rect x="1097.75" y="798.72" width="15.44" height="15.45" fill="#ff7600"/>
<rect x="1113.19" y="798.72" width="15.44" height="15.45" fill="#18d8ec"/>
<rect x="1128.64" y="798.72" width="15.44" height="15.45" fill="#ff7600"/>
<rect x="1159.53" y="798.72" width="15.44" height="15.45" fill="#ff7600"/>
<rect x="1174.97" y="798.72" width="15.44" height="15.45" fill="#18d8ec"/>
<rect x="1190.42" y="798.72" width="15.44" height="15.45" fill="#ff9000"/>
<rect x="1205.86" y="798.72" width="15.44" height="15.45" fill="#ff1a00"/>
<rect x="1221.31" y="798.72" width="15.44" height="15.45" fill="#ff3400"/>
<rect x="1391.20" y="798.72" width="15.44" height="15.45" fill="#25c5e3"/>
<rect x="418.18" y="783.27" width="15.44" height="15.45" fill="#ffa800"/>
<rect x="696.18" y="783.27" width="15.44" height="15.45" fill="#18d8ec"/>
<rect x="742.52" y="783.27" width="15.44" height="15.45" fill="#18d8ec"/>
<rect x="1082.30" y="783.27" width="15.44" height="15.45" fill="#18d8ec"/>
<rect x="1097.75" y="783.27" width="15.44" height="15.45" fill="#ff3400"/>
<rect x="1113.19" y="783.27" width="15.44" height="15.45" fill="#ff7600"/>
<rect x="1128.64" y="783.27" width="15.44" height="15.45" fill="#18d8ec"/>
<rect x="1144.08" y="783.27" width="15.44" height="15.45" fill="#ff7600"/>
<rect x="1174.97" y="783.27" width="15.44" height="15.45" fill="#18d8ec"/>
<rect x="1190.42" y="783.27" width="15.44" height="15.45" fill="#25c5e3"/>
<rect x="1205.86" y="783.27" width="15.44" height="15.45" fill="#18d8ec"/>
<rect x="1221.31" y="783.27" width="15.44" height="15.45" fill="#ff7600"/>
<rect x="1236.75" y="783.27" width="15.44" height="15.45" fill="#18d8ec"/>
<rect x="1391.20" y="783.27" width="30.89" height="15.45" fill="#18d8ec"/>
<rect x="1422.09" y="783.27" width="15.44" height="15.45" fill="#31b2da"/>
<rect x="1097.75" y="767.82" width="15.44" height="15.45" fill="#18d8ec"/>
<rect x="1113.19" y="767.82" width="15.44" height="15.45" fill="#ff3400"/>
<rect x="1128.64" y="767.82" width="15.44" height="15.45" fill="#ff7600"/>
<rect x="1144.08" y="767.82" width="30.89" height="15.45" fill="#18d8ec"/>
<rect x="1190.42" y="767.82" width="15.44" height="15.45" fill="#ff7600"/>
<rect x="1205.86" y="767.82" width="15.44" height="15.45" fill="#31b2da"/>
<rect x="1221.31" y="767.82" width="15.44" height="15.45" fill="#00ffff"/>
<rect x="1236.75" y="767.82" width="15.44" height="15.45" fill="#ff7600"/>
<rect x="1391.20" y="767.82" width="15.44" height="15.45" fill="#31b2da"/>
<rect x="742.52" y="752.37" width="15.44" height="15.45" fill="#25c5e3"/>
<rect x="1113.19" y="752.37" width="15.44" height="15.45" fill="#18d8ec"/>
<rect x="1128.64" y="752.37" width="15.44" height="15.45" fill="#ff3400"/>
<rect x="1144.08" y="752.37" width="15.44" height="15.45" fill="#ff9000"/>
<rect x="1159.53" y="752.37" width="15.44" height="15.45" fill="#25c5e3"/>
<rect x="1174.97" y="752.37" width="15.44" height="15.45" fill="#ff7600"/>
<rect x="1205.86" y="752.37" width="15.44" height="15.45" fill="#ff7600"/>
<rect x="1221.31" y="752.37" width="15.44" height="15.45" fill="#ffa800"/>
<rect x="1236.75" y="752.37" width="15.44" height="15.45" fill="#ff5a00"/>
<rect x="1252.20" y="752.37" width="15.44" height="15.45" fill="#ff3400"/>
<rect x="680.74" y="736.92" width="15.44" height="15.45" fill="#00ffff"/>
<rect x="696.18" y="736.92" width="15.44" height="15.45" fill="#3c9fd1"/>
<rect x="1128.64" y="736.92" width="15.44" height="15.45" fill="#00ffff"/>
<rect x="1144.08" y="736.92" width="15.44" height="15.45" fill="#ff1a00"/>
<rect x="1159.53" y="736.92" width="15.44" height="15.45" fill="#18d8ec"/>
<rect x="1174.97" y="736.92" width="15.44" height="15.45" fill="#31b2da"/>
<rect x="1190.42" y="736.92" width="15.44" height="15.45" fill="#ff7600"/>
<rect x="1221.31" y="736.92" width="15.44" height="15.45" fill="#ff7600"/>
<rect x="1236.75" y="736.92" width="30.89" height="15.45" fill="#18d8ec"/>
<rect x="1267.64" y="736.92" width="30.89" height="15.45" fill="#00ffff"/>
<rect x="1344.87" y="736.92" width="15.44" height="15.45" fill="#25c5e3"/>
<rect x="1360.31" y="736.92" width="15.44" height="15.45" fill="#00ffff"/>
<rect x="1375.76" y="736.92" width="30.89" height="15.45" fill="#25c5e3"/>
<rect x="449.07" y="721.47" width="15.44" height="15.45" fill="#ff7600"/>
<rect x="1144.08" y="721.47" width="15.44" height="15.45" fill="#ff3400"/>
<rect x="1159.53" y="721.47" width="15.44" height="15.45" fill="#ff7600"/>
<rect x="1174.97" y="721.47" width="15.44" height="15.45" fill="#00ffff"/>
<rect x="1190.42" y="721.47" width="15.44" height="15.45" fill="#ffa800"/>
<rect x="1205.86" y="721.47" width="15.44" height="15.45" fill="#ff7600"/>
<rect x="1236.75" y="721.47" width="15.44" height="15.45" fill="#31b2da"/>
<rect x="1252.20" y="721.47" width="30.89" height="15.45" fill="#18d8ec"/>
<rect x="1344.87" y="721.47" width="77.22" height="15.45" fill="#25c5e3"/>
<rect x="1159.53" y="706.02" width="15.44" height="15.45" fill="#18d8ec"/>
<rect x="1174.97" y="706.02" width="15.44" height="15.45" fill="#ff7600"/>
<rect x="1190.42" y="706.02" width="15.44" height="15.45" fill="#ff5a00"/>
<rect x="1205.86" y="706.02" width="15.44" height="15.45" fill="#18d8ec"/>
<rect x="1221.31" y="706.02" width="15.44" height="15.45" fill="#31b2da"/>
<rect x="1252.20" y="706.02" width="15.44" height="15.45" fill="#ff7600"/>
<rect x="1267.64" y="706.02" width="15.44" height="15.45" fill="#ff9000"/>
<rect x="1283.09" y="706.02" width="15.44" height="15.45" fill="#ff7600"/>
<rect x="1329.42" y="706.02" width="15.44" height="15.45" fill="#468dc8"/>
<rect x="1344.87" y="706.02" width="15.44" height="15.45" fill="#31b2da"/>
<rect x="1360.31" y="706.02" width="30.89" height="15.45" fill="#468dc8"/>
<rect x="1391.20" y="706.02" width="15.44" height="15.45" fill="#31b2da"/>
<rect x="1190.42" y="690.57" width="15.44" height="15.45" fill="#ff3400"/>
<rect x="1205.86" y="690.57" width="30.89" height="15.45" fill="#18d8ec"/>
<rect x="1236.75" y="690.57" width="15.44" height="15.45" fill="#ff7600"/>
<rect x="1267.64" y="690.57" width="15.44" height="15.45" fill="#ff7600"/>
<rect x="1283.09" y="690.57" width="15.44" height="15.45" fill="#ff5a00"/>
<rect x="1298.53" y="690.57" width="15.44" height="15.45" fill="#ff9000"/>
<rect x="1313.98" y="690.57" width="15.44" height="15.45" fill="#31b2da"/>
<rect x="1329.42" y="690.57" width="15.44" height="15.45" fill="#468dc8"/>
<rect x="1344.87" y="690.57" width="46.33" height="15.45" fill="#31b2da"/>
<rect x="495.40" y="675.12" width="15.44" height="15.45" fill="#ff3400"/>
<rect x="1205.86" y="675.12" width="15.44" height="15.45" fill="#00ffff"/>
<rect x="1221.31" y="675.12" width="15.44" height="15.45" fill="#18d8ec"/>
<rect x="1236.75" y="675.12" width="15.44" height="15.45" fill="#ff9000"/>
<rect x="1252.20" y="675.12" width="15.44" height="15.45" fill="#ff7600"/>
<rect x="1283.09" y="675.12" width="15.44" height="15.45" fill="#ff7600"/>
<rect x="1298.53" y="675.12" width="15.44" height="15.45" fill="#ffa800"/>
<rect x="1313.98" y="675.12" width="15.44" height="15.45" fill="#25c5e3"/>
<rect x="1329.42" y="675.12" width="15.44" height="15.45" fill="#31b2da"/>
<rect x="1344.87" y="675.12" width="30.89" height="15.45" fill="#25c5e3"/>
<rect x="495.40" y="659.67" width="30.89" height="15.45" fill="#ff3400"/>
<rect x="557.18" y="659.67" width="15.44" height="15.45" fill="#18d8ec"/>
<rect x="618.96" y="659.67" width="15.44" height="15.45" fill="#468dc8"/>
<rect x="680.74" y="659.67" width="15.44" height="15.45" fill="#468dc8"/>
<rect x="1205.86" y="659.67" width="15.44" height="15.45" fill="#00ffff"/>
<rect x="1236.75" y="659.67" width="15.44" height="15.45" fill="#ff7600"/>
<rect x="1252.20" y="659.67" width="15.44" height="15.45" fill="#ff5a00"/>
<rect x="1267.64" y="659.67" width="15.44" height="15.45" fill="#ff7600"/>
<rect x="1298.53" y="659.67" width="15.44" height="15.45" fill="#ff7600"/>
<rect x="1313.98" y="659.67" width="15.44" height="15.45" fill="#25c5e3"/>
<rect x="1329.42" y="659.67" width="15.44" height="15.45" fill="#31b2da"/>
<rect x="1344.87" y="659.67" width="30.89" height="15.45" fill="#25c5e3"/>
<rect x="495.40" y="644.22" width="15.44" height="15.45" fill="#00ffff"/>
<rect x="510.85" y="644.22" width="15.44" height="15.45" fill="#ff9000"/>
<rect x="541.74" y="644.22" width="15.44" height="15.45" fill="#3c9fd1"/>
<rect x="557.18" y="644.22" width="15.44" height="15.45" fill="#468dc8"/>
<rect x="1252.20" y="644.22" width="15.44" height="15.45" fill="#ff9000"/>
<rect x="1267.64" y="644.22" width="15.44" height="15.45" fill="#ffa800"/>
<rect x="1283.09" y="644.22" width="15.44" height="15.45" fill="#ff7600"/>
<rect x="1313.98" y="644.22" width="15.44" height="15.45" fill="#31b2da"/>
<rect x="1329.42" y="644.22" width="15.44" height="15.45" fill="#18d8ec"/>
<rect x="1344.87" y="644.22" width="30.89" height="15.45" fill="#31b2da"/>
<rect x="510.85" y="628.77" width="15.44" height="15.45" fill="#25c5e3"/>
<rect x="1252.20" y="628.77" width="15.44" height="15.45" fill="#31b2da"/>
<rect x="1267.64" y="628.77" width="30.89" height="15.45" fill="#25c5e3"/>
<rect x="1298.53" y="628.77" width="15.44" height="15.45" fill="#31b2da"/>
<rect x="1329.42" y="628.77" width="15.44" height="15.45" fill="#ff7600"/>
<rect x="1344.87" y="628.77" width="30.89" height="15.45" fill="#ffa800"/>
<rect x="479.96" y="613.32" width="30.89" height="15.45" fill="#468dc8"/>
<rect x="510.85" y="613.32" width="15.44" height="15.45" fill="#3c9fd1"/>
<rect x="1236.75" y="613.32" width="30.89" height="15.45" fill="#468dc8"/>
<rect x="1267.64" y="613.32" width="30.89" height="15.45" fill="#31b2da"/>
<rect x="1298.53" y="613.32" width="15.44" height="15.45" fill="#18d8ec"/>
<rect x="1313.98" y="613.32" width="15.44" height="15.45" fill="#ff7600"/>
<rect x="1344.87" y="613.32" width="15.44" height="15.45" fill="#ff7600"/>
<rect x="1360.31" y="613.32" width="30.89" height="15.45" fill="#ff5a00"/>
<rect x="464.51" y="597.86" width="46.33" height="15.45" fill="#31b2da"/>
<rect x="510.85" y="597.86" width="15.44" height="15.45" fill="#25c5e3"/>
<rect x="1205.86" y="597.86" width="30.89" height="15.45" fill="#25c5e3"/>
<rect x="1236.75" y="597.86" width="30.89" height="15.45" fill="#31b2da"/>
<rect x="1267.64" y="597.86" width="30.89" height="15.45" fill="#25c5e3"/>
<rect x="1298.53" y="597.86" width="15.44" height="15.45" fill="#31b2da"/>
<rect x="1313.98" y="597.86" width="15.44" height="15.45" fill="#ffa800"/>
<rect x="1329.42" y="597.86" width="15.44" height="15.45" fill="#ff7600"/>
<rect x="1360.31" y="597.86" width="15.44" height="15.45" fill="#ff7600"/>
<rect x="1375.76" y="597.86" width="15.44" height="15.45" fill="#ff1a00"/>
<rect x="449.07" y="582.41" width="61.78" height="15.45" fill="#31b2da"/>
<rect x="510.85" y="582.41" width="15.44" height="15.45" fill="#25c5e3"/>
<rect x="1205.86" y="582.41" width="15.44" height="15.45" fill="#00ffff"/>
<rect x="1221.31" y="582.41" width="15.44" height="15.45" fill="#25c5e3"/>
<rect x="1236.75" y="582.41" width="15.44" height="15.45" fill="#468dc8"/>
<rect x="1252.20" y="582.41" width="15.44" height="15.45" fill="#31b2da"/>
<rect x="1267.64" y="582.41" width="30.89" height="15.45" fill="#25c5e3"/>
<rect x="1298.53" y="582.41" width="15.44" height="15.45" fill="#31b2da"/>
<rect x="1313.98" y="582.41" width="15.44" height="15.45" fill="#ffa800"/>
<rect x="1329.42" y="582.41" width="15.44" height="15.45" fill="#ff5a00"/>
<rect x="1344.87" y="582.41" width="15.44" height="15.45" fill="#ff7600"/>
<rect x="1375.76" y="582.41" width="15.44" height="15.45" fill="#ff7600"/>
<rect x="1391.20" y="582.41" width="30.89" height="15.45" fill="#ff1a00"/>
<rect x="433.62" y="566.96" width="46.33" height="15.45" fill="#468dc8"/>
<rect x="479.96" y="566.96" width="30.89" height="15.45" fill="#31b2da"/>
<rect x="927.86" y="566.96" width="15.44" height="15.45" fill="#ff5a00"/>
<rect x="1205.86" y="566.96" width="30.89" height="15.45" fill="#25c5e3"/>
<rect x="1236.75" y="566.96" width="15.44" height="15.45" fill="#468dc8"/>
<rect x="1252.20" y="566.96" width="15.44" height="15.45" fill="#31b2da"/>
<rect x="1329.42" y="566.96" width="15.44" height="15.45" fill="#ff5a00"/>
<rect x="1344.87" y="566.96" width="15.44" height="15.45" fill="#ff1a00"/>
<rect x="1360.31" y="566.96" width="15.44" height="15.45" fill="#ff7600"/>
<rect x="1391.20" y="566.96" width="15.44" height="15.45" fill="#ff7600"/>
<rect x="1406.65" y="566.96" width="15.44" height="15.45" fill="#ff3400"/>
<rect x="418.18" y="551.51" width="15.44" height="15.45" fill="#3c9fd1"/>
<rect x="433.62" y="551.51" width="46.33" height="15.45" fill="#468dc8"/>
<rect x="479.96" y="551.51" width="15.44" height="15.45" fill="#31b2da"/>
<rect x="927.86" y="551.51" width="46.33" height="15.45" fill="#ff7600"/>
<rect x="1144.08" y="551.51" width="15.44" height="15.45" fill="#25c5e3"/>
<rect x="1159.53" y="551.51" width="15.44" height="15.45" fill="#18d8ec"/>
<rect x="1174.97" y="551.51" width="15.44" height="15.45" fill="#31b2da"/>
<rect x="1205.86" y="551.51" width="30.89" height="15.45" fill="#25c5e3"/>
<rect x="1236.75" y="551.51" width="15.44" height="15.45" fill="#31b2da"/>
<rect x="1360.31" y="551.51" width="15.44" height="15.45" fill="#ff1a00"/>
<rect x="1375.76" y="551.51" width="15.44" height="15.45" fill="#ff7600"/>
<rect x="1406.65" y="551.51" width="15.44" height="15.45" fill="#ff7600"/>
<rect x="1422.09" y="551.51" width="30.89" height="15.45" fill="#ff5a00"/>
<rect x="402.73" y="536.06" width="30.89" height="15.45" fill="#31b2da"/>
<rect x="433.62" y="536.06" width="46.33" height="15.45" fill="#468dc8"/>
<rect x="958.75" y="536.06" width="15.44" height="15.45" fill="#ff7600"/>
<rect x="1159.53" y="536.06" width="15.44" height="15.45" fill="#18d8ec"/>
<rect x="1221.31" y="536.06" width="15.44" height="15.45" fill="#25c5e3"/>
<rect x="1360.31" y="536.06" width="15.44" height="15.45" fill="#ff1a00"/>
<rect x="1375.76" y="536.06" width="15.44" height="15.45" fill="#ff3400"/>
<rect x="1391.20" y="536.06" width="15.44" height="15.45" fill="#ff7600"/>
<rect x="1422.09" y="536.06" width="15.44" height="15.45" fill="#ff7600"/>
<rect x="1437.53" y="536.06" width="15.44" height="15.45" fill="#ff5a00"/>
<rect x="1452.98" y="536.06" width="15.44" height="15.45" fill="#ff7600"/>
<rect x="310.06" y="520.61" width="15.44" height="15.45" fill="#00ffff"/>
<rect x="371.84" y="520.61" width="15.44" height="15.45" fill="#00ffff"/>
<rect x="387.29" y="520.61" width="15.44" height="15.45" fill="#0ceaf5"/>
<rect x="402.73" y="520.61" width="30.89" height="15.45" fill="#31b2da"/>
<rect x="433.62" y="520.61" width="15.44" height="15.45" fill="#25c5e3"/>
<rect x="449.07" y="520.61" width="15.44" height="15.45" fill="#31b2da"/>
<rect x="958.75" y="520.61" width="15.44" height="15.45" fill="#ffa800"/>
<rect x="1159.53" y="520.61" width="15.44" height="15.45" fill="#31b2da"/>
<rect x="1391.20" y="520.61" width="15.44" height="15.45" fill="#ff5a00"/>
<rect x="1406.65" y="520.61" width="15.44" height="15.45" fill="#ff7600"/>
<rect x="1437.53" y="520.61" width="15.44" height="15.45" fill="#ff7600"/>
<rect x="1452.98" y="520.61" width="15.44" height="15.45" fill="#ff1a00"/>
<rect x="356.40" y="505.16" width="15.44" height="15.45" fill="#00ffff"/>
<rect x="371.84" y="505.16" width="15.44" height="15.45" fill="#18d8ec"/>
<rect x="387.29" y="505.16" width="15.44" height="15.45" fill="#00ffff"/>
<rect x="402.73" y="505.16" width="61.78" height="15.45" fill="#18d8ec"/>
<rect x="958.75" y="505.16" width="15.44" height="15.45" fill="#18d8ec"/>
<rect x="974.19" y="505.16" width="15.44" height="15.45" fill="#ffa800"/>
<rect x="1391.20" y="505.16" width="30.89" height="15.45" fill="#ff5a00"/>
<rect x="1422.09" y="505.16" width="15.44" height="15.45" fill="#ff7600"/>
<rect x="1452.98" y="505.16" width="15.44" height="15.45" fill="#ff7600"/>
<rect x="1468.42" y="505.16" width="15.44" height="15.45" fill="#ff5a00"/>
<rect x="1483.87" y="505.16" width="15.44" height="15.45" fill="#ff3400"/>
<rect x="371.84" y="489.71" width="15.44" height="15.45" fill="#18d8ec"/>
<rect x="402.73" y="489.71" width="46.33" height="15.45" fill="#18d8ec"/>
<rect x="1406.65" y="489.71" width="15.44" height="15.45" fill="#ff7600"/>
<rect x="1422.09" y="489.71" width="15.44" height="15.45" fill="#ff1a00"/>
<rect x="1437.53" y="489.71" width="15.44" height="15.45" fill="#ff7600"/>
<rect x="1468.42" y="489.71" width="15.44" height="15.45" fill="#ff7600"/>
<rect x="1483.87" y="489.71" width="15.44" height="15.45" fill="#ff5a00"/>
<rect x="1499.31" y="489.71" width="15.44" height="15.45" fill="#ff7600"/>
<rect x="1437.53" y="474.26" width="15.44" height="15.45" fill="#ff5a00"/>
<rect x="1452.98" y="474.26" width="15.44" height="15.45" fill="#ff7600"/>
<rect x="1483.87" y="474.26" width="15.44" height="15.45" fill="#ff7600"/>
<rect x="1499.31" y="474.26" width="30.89" height="15.45" fill="#18d8ec"/>
<rect x="1437.53" y="458.81" width="15.44" height="15.45" fill="#ff3400"/>
<rect x="1452.98" y="458.81" width="15.44" height="15.45" fill="#ff5a00"/>
<rect x="1468.42" y="458.81" width="15.44" height="15.45" fill="#ff7600"/>
<rect x="1499.31" y="458.81" width="15.44" height="15.45" fill="#ff7600"/>
<rect x="1514.76" y="458.81" width="15.44" height="15.45" fill="#18d8ec"/>
<rect x="1530.20" y="458.81" width="15.44" height="15.45" fill="#ff7600"/>
<rect x="1452.98" y="443.36" width="15.44" height="15.45" fill="#ff7600"/>
<rect x="1468.42" y="443.36" width="15.44" height="15.45" fill="#18d8ec"/>
<rect x="1483.87" y="443.36" width="15.44" height="15.45" fill="#ff7600"/>
<rect x="1514.76" y="443.36" width="15.44" height="15.45" fill="#ff7600"/>
<rect x="1530.20" y="443.36" width="15.44" height="15.45" fill="#18d8ec"/>
<rect x="1545.65" y="443.36" width="15.44" height="15.45" fill="#ff7600"/>
<rect x="1561.09" y="443.36" width="15.44" height="15.45" fill="#ff5a00"/>
<rect x="1468.42" y="427.91" width="30.89" height="15.45" fill="#18d8ec"/>
<rect x="1499.31" y="427.91" width="15.44" height="15.45" fill="#ff7600"/>
<rect x="1530.20" y="427.91" width="15.44" height="15.45" fill="#ff7600"/>
<rect x="1545.65" y="427.91" width="15.44" height="15.45" fill="#18d8ec"/>
<rect x="1561.09" y="427.91" width="15.44" height="15.45" fill="#ff7600"/>
<rect x="1576.54" y="427.91" width="15.44" height="15.45" fill="#ff5a00"/>
<rect x="1591.98" y="427.91" width="15.44" height="15.45" fill="#18d8ec"/>
<rect x="1483.87" y="412.46" width="15.44" height="15.45" fill="#ff7600"/>
<rect x="1499.31" y="412.46" width="15.44" height="15.45" fill="#18d8ec"/>
<rect x="1514.76" y="412.46" width="15.44" height="15.45" fill="#ff7600"/>
<rect x="1545.65" y="412.46" width="15.44" height="15.45" fill="#ff7600"/>
<rect x="1561.09" y="412.46" width="15.44" height="15.45" fill="#18d8ec"/>
<rect x="1576.54" y="412.46" width="15.44" height="15.45" fill="#ff7600"/>
<rect x="1591.98" y="412.46" width="15.44" height="15.45" fill="#ff5a00"/>
<rect x="1607.43" y="412.46" width="15.44" height="15.45" fill="#18d8ec"/>
<rect x="1499.31" y="397.01" width="15.44" height="15.45" fill="#ff7600"/>
<rect x="1514.76" y="397.01" width="15.44" height="15.45" fill="#18d8ec"/>
<rect x="1530.20" y="397.01" width="15.44" height="15.45" fill="#ff7600"/>
<rect x="1561.09" y="397.01" width="15.44" height="15.45" fill="#ff7600"/>
<rect x="1576.54" y="397.01" width="15.44" height="15.45" fill="#18d8ec"/>
<rect x="1591.98" y="397.01" width="15.44" height="15.45" fill="#ff7600"/>
<rect x="1607.43" y="397.01" width="15.44" height="15.45" fill="#ff3400"/>
<rect x="1622.87" y="397.01" width="15.44" height="15.45" fill="#18d8ec"/>
<rect x="1499.31" y="381.56" width="15.44" height="15.45" fill="#ff5a00"/>
<rect x="1514.76" y="381.56" width="15.44" height="15.45" fill="#ff7600"/>
<rect x="1530.20" y="381.56" width="15.44" height="15.45" fill="#18d8ec"/>
<rect x="1545.65" y="381.56" width="15.44" height="15.45" fill="#ff7600"/>
<rect x="1576.54" y="381.56" width="15.44" height="15.45" fill="#ff7600"/>
<rect x="1591.98" y="381.56" width="15.44" height="15.45" fill="#18d8ec"/>
<rect x="1607.43" y="381.56" width="15.44" height="15.45" fill="#ff7600"/>
<rect x="1622.87" y="381.56" width="15.44" height="15.45" fill="#ff3400"/>
<rect x="1638.32" y="381.56" width="15.44" height="15.45" fill="#18d8ec"/>
<rect x="1514.76" y="366.11" width="15.44" height="15.45" fill="#ff5a00"/>
<rect x="1530.20" y="366.11" width="15.44" height="15.45" fill="#ff7600"/>
<rect x="1545.65" y="366.11" width="15.44" height="15.45" fill="#18d8ec"/>
<rect x="1561.09" y="366.11" width="15.44" height="15.45" fill="#ff7600"/>
<rect x="1591.98" y="366.11" width="15.44" height="15.45" fill="#ff7600"/>
<rect x="1607.43" y="366.11" width="15.44" height="15.45" fill="#18d8ec"/>
<rect x="1622.87" y="366.11" width="15.44" height="15.45" fill="#ff7600"/>
<rect x="1638.32" y="366.11" width="15.44" height="15.45" fill="#ff5a00"/>
<rect x="1514.76" y="350.66" width="15.44" height="15.45" fill="#18d8ec"/>
<rect x="1530.20" y="350.66" width="15.44" height="15.45" fill="#ff5a00"/>
<rect x="1545.65" y="350.66" width="15.44" height="15.45" fill="#ff7600"/>
<rect x="1561.09" y="350.66" width="15.44" height="15.45" fill="#18d8ec"/>
<rect x="1576.54" y="350.66" width="15.44" height="15.45" fill="#ff7600"/>
<rect x="1607.43" y="350.66" width="15.44" height="15.45" fill="#ff7600"/>
<rect x="1622.87" y="350.66" width="15.44" height="15.45" fill="#18d8ec"/>
<rect x="1638.32" y="350.66" width="15.44" height="15.45" fill="#ff7600"/>
<rect x="1530.20" y="335.21" width="15.44" height="15.45" fill="#18d8ec"/>
<rect x="1545.65" y="335.21" width="15.44" height="15.45" fill="#ff3400"/>
<rect x="1561.09" y="335.21" width="15.44" height="15.45" fill="#ff7600"/>
<rect x="1576.54" y="335.21" width="15.44" height="15.45" fill="#18d8ec"/>
<rect x="1591.98" y="335.21" width="15.44" height="15.45" fill="#ff7600"/>
<rect x="1622.87" y="335.21" width="15.44" height="15.45" fill="#ff7600"/>
<rect x="1638.32" y="335.21" width="15.44" height="15.45" fill="#18d8ec"/>
<rect x="1653.76" y="335.21" width="15.44" height="15.45" fill="#ff7600"/>
<rect x="1545.65" y="319.76" width="15.44" height="15.45" fill="#18d8ec"/>
<rect x="1561.09" y="319.76" width="15.44" height="15.45" fill="#ff3400"/>
<rect x="1576.54" y="319.76" width="15.44" height="15.45" fill="#ff7600"/>
<rect x="1591.98" y="319.76" width="15.44" height="15.45" fill="#18d8ec"/>
<rect x="1607.43" y="319.76" width="15.44" height="15.45" fill="#ff7600"/>
<rect x="1638.32" y="319.76" width="15.44" height="15.45" fill="#ff7600"/>
<rect x="1653.76" y="319.76" width="15.44" height="15.45" fill="#18d8ec"/>
<rect x="1669.21" y="319.76" width="15.44" height="15.45" fill="#ff7600"/>
<rect x="1561.09" y="304.31" width="15.44" height="15.45" fill="#18d8ec"/>
<rect x="1576.54" y="304.31" width="15.44" height="15.45" fill="#ff5a00"/>
<rect x="1591.98" y="304.31" width="15.44" height="15.45" fill="#ff7600"/>
<rect x="1607.43" y="304.31" width="15.44" height="15.45" fill="#18d8ec"/>
<rect x="1622.87" y="304.31" width="15.44" height="15.45" fill="#ff7600"/>
<rect x="1653.76" y="304.31" width="15.44" height="15.45" fill="#ff7600"/>
<rect x="1669.21" y="304.31" width="15.44" height="15.45" fill="#18d8ec"/>
<rect x="1684.65" y="304.31" width="15.44" height="15.45" fill="#ff7600"/>
<rect x="1607.43" y="288.86" width="15.44" height="15.45" fill="#ff7600"/>
<rect x="1622.87" y="288.86" width="15.44" height="15.45" fill="#18d8ec"/>
<rect x="1638.32" y="288.86" width="15.44" height="15.45" fill="#ff7600"/>
<rect x="1669.21" y="288.86" width="15.44" height="15.45" fill="#ff7600"/>
<rect x="1684.65" y="288.86" width="15.44" height="15.45" fill="#18d8ec"/>
<rect x="1700.10" y="288.86" width="15.44" height="15.45" fill="#ff7600"/>
<rect x="1622.87" y="273.40" width="15.44" height="15.45" fill="#ff7600"/>
<rect x="1638.32" y="273.40" width="15.44" height="15.45" fill="#18d8ec"/>
<rect x="1653.76" y="273.40" width="15.44" height="15.45" fill="#ff7600"/>
<rect x="1684.65" y="273.40" width="15.44" height="15.45" fill="#ff7600"/>
<rect x="1700.10" y="273.40" width="15.44" height="15.45" fill="#18d8ec"/>
<rect x="1715.54" y="273.40" width="15.44" height="15.45" fill="#ff7600"/>
<rect x="1638.32" y="257.95" width="15.44" height="15.45" fill="#ff7600"/>
<rect x="1653.76" y="257.95" width="15.44" height="15.45" fill="#18d8ec"/>
<rect x="1669.21" y="257.95" width="15.44" height="15.45" fill="#ff7600"/>
<rect x="1700.10" y="257.95" width="15.44" height="15.45" fill="#ff7600"/>
<rect x="1715.54" y="257.95" width="15.44" height="15.45" fill="#18d8ec"/>
<rect x="1730.99" y="257.95" width="15.44" height="15.45" fill="#ff7600"/>
<rect x="1653.76" y="242.50" width="15.44" height="15.45" fill="#ff7600"/>
<rect x="1669.21" y="242.50" width="15.44" height="15.45" fill="#18d8ec"/>
<rect x="1684.65" y="242.50" width="15.44" height="15.45" fill="#ff7600"/>
<rect x="1715.54" y="242.50" width="15.44" height="15.45" fill="#ff7600"/>
<rect x="1730.99" y="242.50" width="15.44" height="15.45" fill="#18d8ec"/>
<rect x="1746.43" y="242.50" width="15.44" height="15.45" fill="#ff7600"/>
<rect x="1669.21" y="227.05" width="15.44" height="15.45" fill="#ff7600"/>
<rect x="1684.65" y="227.05" width="15.44" height="15.45" fill="#18d8ec"/>
<rect x="1700.10" y="227.05" width="15.44" height="15.45" fill="#ff7600"/>
<rect x="1730.99" y="227.05" width="15.44" height="15.45" fill="#ff7600"/>
<rect x="1746.43" y="227.05" width="15.44" height="15.45" fill="#18d8ec"/>
<rect x="1761.88" y="227.05" width="15.44" height="15.45" fill="#ff7600"/>
<rect x="1684.65" y="211.60" width="15.44" height="15.45" fill="#ff7600"/>
<rect x="1700.10" y="211.60" width="15.44" height="15.45" fill="#18d8ec"/>
<rect x="1715.54" y="211.60" width="15.44" height="15.45" fill="#ff7600"/>
<rect x="1746.43" y="211.60" width="15.44" height="15.45" fill="#ff7600"/>
<rect x="1761.88" y="211.60" width="15.44" height="15.45" fill="#18d8ec"/>
<rect x="1777.32" y="211.60" width="15.44" height="15.45" fill="#ff7600"/>
<rect x="1700.10" y="196.15" width="15.44" height="15.45" fill="#ff7600"/>
<rect x="1715.54" y="196.15" width="15.44" height="15.45" fill="#18d8ec"/>
<rect x="1730.99" y="196.15" width="15.44" height="15.45" fill="#ff7600"/>
<rect x="1761.88" y="196.15" width="15.44" height="15.45" fill="#ff7600"/>
<rect x="1777.32" y="196.15" width="15.44" height="15.45" fill="#ff3400"/>
<rect x="1792.77" y="196.15" width="15.44" height="15.45" fill="#ff7600"/>
<rect x="1715.54" y="180.70" width="15.44" height="15.45" fill="#ff7600"/>
<rect x="1730.99" y="180.70" width="15.44" height="15.45" fill="#18d8ec"/>
<rect x="1746.43" y="180.70" width="15.44" height="15.45" fill="#ff7600"/>
<rect x="1777.32" y="180.70" width="15.44" height="15.45" fill="#ff7600"/>
<rect x="1792.77" y="180.70" width="15.44" height="15.45" fill="#ffa800"/>
<rect x="1730.99" y="165.25" width="15.44" height="15.45" fill="#ff7600"/>
<rect x="1746.43" y="165.25" width="15.44" height="15.45" fill="#ff3400"/>
<rect x="1761.88" y="165.25" width="15.44" height="15.45" fill="#ff7600"/>
<rect x="1792.77" y="165.25" width="15.44" height="15.45" fill="#ff7600"/>
<rect x="1808.21" y="165.25" width="15.44" height="15.45" fill="#ffa800"/>
<rect x="1746.43" y="149.80" width="15.44" height="15.45" fill="#ff7600"/>
<rect x="1761.88" y="149.80" width="15.44" height="15.45" fill="#ffa800"/>
<rect x="1777.32" y="149.80" width="15.44" height="15.45" fill="#ff7600"/>
<rect x="1808.21" y="149.80" width="15.44" height="15.45" fill="#ff7600"/>
<rect x="1823.66" y="149.80" width="15.44" height="15.45" fill="#18d8ec"/>
<rect x="1777.32" y="134.35" width="15.44" height="15.45" fill="#ffa800"/>
<rect x="1792.77" y="134.35" width="15.44" height="15.45" fill="#ff7600"/>
<rect x="1823.66" y="134.35" width="15.44" height="15.45" fill="#ff7600"/>
<rect x="1792.77" y="118.90" width="15.44" height="15.45" fill="#18d8ec"/>
<rect x="1808.21" y="118.90" width="15.44" height="15.45" fill="#ff7600"/>
</g>
<g>
<rect x="1863.60" y="221.26" width="8.90" height="102.66" fill="#5280c6"/>
<rect x="1863.60" y="323.62" width="8.90" height="102.66" fill="#468dc8"/>
<rect x="1863.60" y="425.98" width="8.90" height="102.66" fill="#3c9fd1"/>
<rect x="1863.60" y="528.34" width="8.90" height="102.66" fill="#31b2da"/>
<rect x="1863.60" y="630.70" width="8.90" height="102.66" fill="#25c5e3"/>
<rect x="1863.60" y="733.06" width="8.90" height="102.66" fill="#18d8ec"/>
<rect x="1863.60" y="835.42" width="8.90" height="102.66" fill="#0ceaf5"/>
<rect x="1863.60" y="937.77" width="8.90" height="102.66" fill="#00ffff"/>
<rect x="1863.60" y="1040.13" width="8.90" height="102.66" fill="#ffa800"/>
<rect x="1863.60" y="1142.49" width="8.90" height="102.66" fill="#ff9000"/>
<rect x="1863.60" y="1244.85" width="8.90" height="102.66" fill="#ff7600"/>
<rect x="1863.60" y="1347.21" width="8.90" height="102.66" fill="#ff5a00"/>
<rect x="1863.60" y="1449.57" width="8.90" height="102.66" fill="#ff3400"/>
<rect x="1863.60" y="1551.93" width="8.90" height="102.66" fill="#ff1a00"/>
<rect x="1863.60" y="1654.29" width="8.90" height="102.66" fill="#ff0000"/>
</g>
<g fill="none" stroke="#000" stroke-width="5.8" stroke-linejoin="round" stroke-linecap="round">
<rect x="201.95" y="118.90" width="1637.15" height="1637.75"/>
<rect x="1861.90" y="118.90" width="12.35" height="1637.75" stroke-width="5.5"/>
<path d="M503.12 1756.65v5.2 M503.12 118.90v-5.2 M201.95 1455.37h-5.2 M1839.10 1455.37h5.2"/>
<path d="M812.02 1756.65v5.2 M812.02 118.90v-5.2 M201.95 1146.36h-5.2 M1839.10 1146.36h5.2"/>
<path d="M1120.92 1756.65v5.2 M1120.92 118.90v-5.2 M201.95 837.35h-5.2 M1839.10 837.35h5.2"/>
<path d="M1429.81 1756.65v5.2 M1429.81 118.90v-5.2 M201.95 528.34h-5.2 M1839.10 528.34h5.2"/>
<path d="M1738.71 1756.65v5.2 M1738.71 118.90v-5.2 M201.95 219.33h-5.2 M1839.10 219.33h5.2"/>
<path d="M1874.25 1696.70h4.4"/>
<path d="M1874.25 1286.43h4.4"/>
<path d="M1874.25 876.17h4.4"/>
<path d="M1874.25 465.90h4.4"/>
</g>
<text transform="translate(469.88 1811.80) scale(1 1.055)" font-size="59.8" text-anchor="start">20</text>
<text transform="translate(125.30 1477.67) scale(1 1.055)" font-size="59.8" text-anchor="start">20</text>
<text transform="translate(778.77 1811.80) scale(1 1.055)" font-size="59.8" text-anchor="start">40</text>
<text transform="translate(125.30 1168.66) scale(1 1.055)" font-size="59.8" text-anchor="start">40</text>
<text transform="translate(1087.67 1811.80) scale(1 1.055)" font-size="59.8" text-anchor="start">60</text>
<text transform="translate(125.30 859.65) scale(1 1.055)" font-size="59.8" text-anchor="start">60</text>
<text transform="translate(1396.56 1811.80) scale(1 1.055)" font-size="59.8" text-anchor="start">80</text>
<text transform="translate(125.30 550.64) scale(1 1.055)" font-size="59.8" text-anchor="start">80</text>
<path d="M1692.78 1776.82 Q1704.50 1775.92 1706.60 1769.52 L1711.98 1769.52 L1711.98 1811.80 L1702.95 1811.80 L1702.95 1782.86 L1692.78 1782.86Z" fill="#000"/>
<text transform="translate(1722.08 1811.80) scale(1 1.055)" font-size="59.8" text-anchor="start">00</text>
<path d="M96.00 206.65 Q107.72 205.75 109.81 199.35 L115.20 199.35 L115.20 241.63 L106.17 241.63 L106.17 212.68 L96.00 212.68Z" fill="#000"/>
<text transform="translate(125.30 241.63) scale(1 1.055)" font-size="59.8" text-anchor="start">00</text>
<text transform="translate(1882.60 1714.70) scale(1 1.055)" font-size="48.6" text-anchor="start">0</text>
<text transform="translate(1882.60 1304.43) scale(1 1.055)" font-size="48.6" text-anchor="start">50</text>
<path d="M1885.81 865.74 Q1895.33 865.01 1897.03 859.81 L1901.41 859.81 L1901.41 894.17 L1894.07 894.17 L1894.07 870.64 L1885.81 870.64Z" fill="#000"/>
<text transform="translate(1909.62 894.17) scale(1 1.055)" font-size="48.6" text-anchor="start">00</text>
<path d="M1885.81 455.47 Q1895.33 454.74 1897.03 449.54 L1901.41 449.54 L1901.41 483.90 L1894.07 483.90 L1894.07 460.38 L1885.81 460.38Z" fill="#000"/>
<text transform="translate(1909.62 483.90) scale(1 1.055)" font-size="48.6" text-anchor="start">50</text>
<text x="1021.12" y="1867.30" font-size="59.8" text-anchor="middle">Residue index</text>
<text transform="translate(80.20 938.28) rotate(-90)" font-size="59.8" text-anchor="middle">Residue index</text>
</svg></body></html>
